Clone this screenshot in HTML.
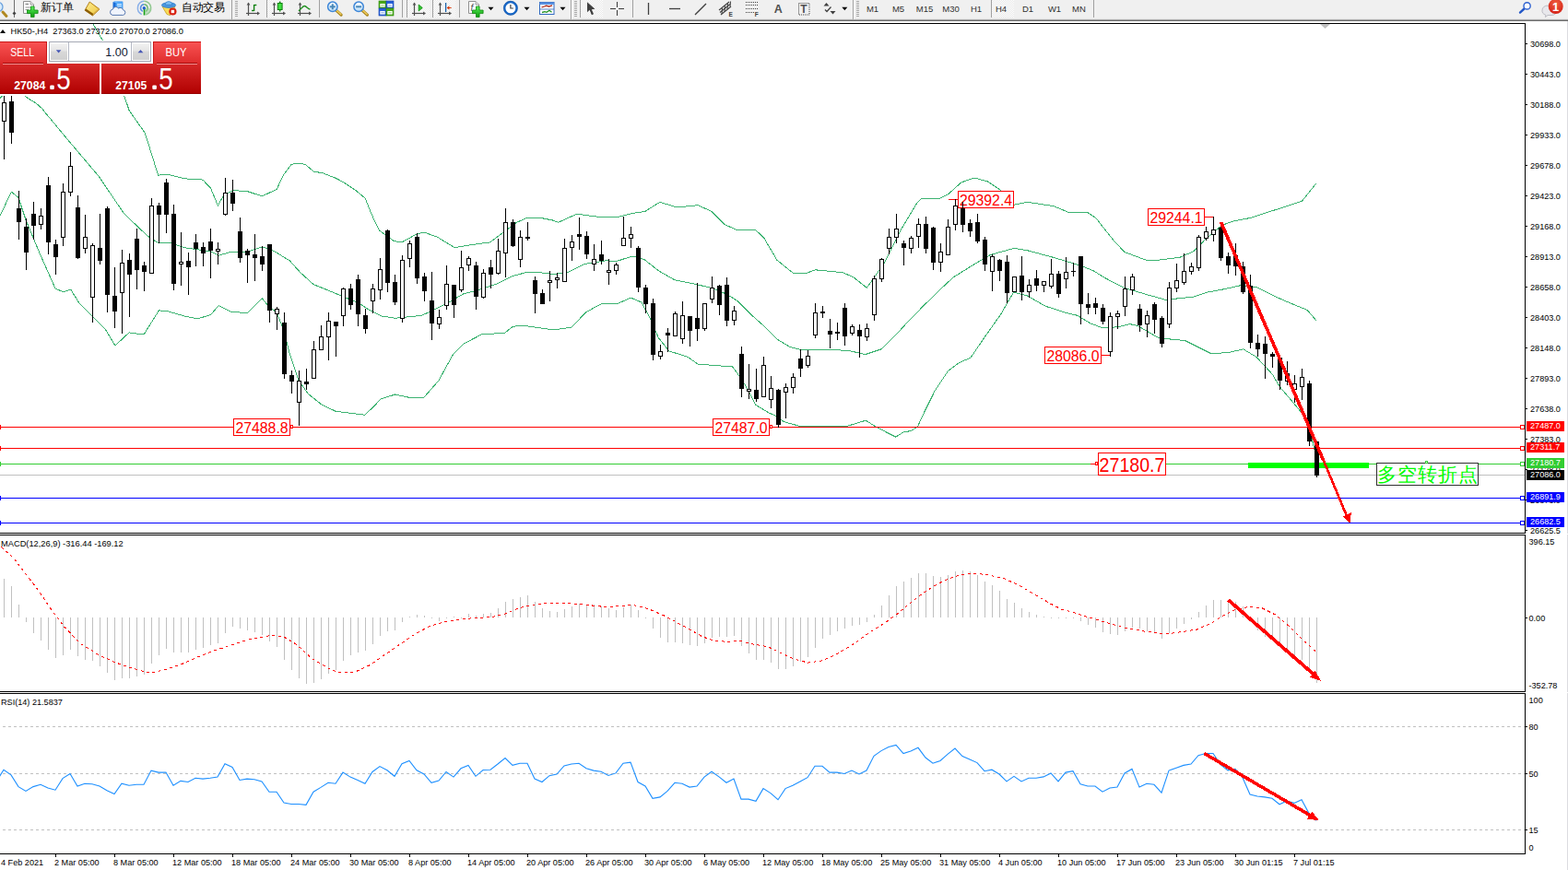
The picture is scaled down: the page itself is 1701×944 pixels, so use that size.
<!DOCTYPE html>
<html><head><meta charset="utf-8"><title>HK50-,H4</title>
<style>
html,body{margin:0;padding:0;background:#fff;overflow:hidden;}
body{width:1701px;height:944px;font-family:"Liberation Sans",sans-serif;}
svg{display:block;position:absolute;left:0;top:0;}
text{font-family:"Liberation Sans",sans-serif;}
</style></head><body>
<svg width="1701" height="944" viewBox="0 0 1701 944">
<rect x="0" y="0" width="1701" height="944" fill="#fff"/>
<defs>
<linearGradient id="gplus" x1="0" y1="0" x2="0" y2="1"><stop offset="0" stop-color="#5cf05c"/><stop offset="1" stop-color="#0a9a0a"/></linearGradient>
<linearGradient id="ggold" x1="0" y1="0" x2="1" y2="1"><stop offset="0" stop-color="#ffe888"/><stop offset="0.6" stop-color="#ecc030"/><stop offset="1" stop-color="#c08c10"/></linearGradient>
<linearGradient id="gsell" x1="0" y1="0" x2="0" y2="1"><stop offset="0" stop-color="#f85252"/><stop offset="1" stop-color="#de2c2c"/></linearGradient>
<linearGradient id="gprice" x1="0" y1="0" x2="0" y2="1"><stop offset="0" stop-color="#d62828"/><stop offset="1" stop-color="#b00000"/></linearGradient>
<linearGradient id="gbtn" x1="0" y1="0" x2="0" y2="1"><stop offset="0" stop-color="#f2f2f2"/><stop offset="0.45" stop-color="#e4e4e4"/><stop offset="0.5" stop-color="#d8d8d8"/><stop offset="1" stop-color="#d0d0d0"/></linearGradient>
<radialGradient id="gbadge" cx="0.5" cy="0.3" r="0.8"><stop offset="0" stop-color="#f06040"/><stop offset="1" stop-color="#d01810"/></radialGradient>
<linearGradient id="glens" x1="0" y1="0" x2="0" y2="1"><stop offset="0" stop-color="#ffffff"/><stop offset="1" stop-color="#b8dcf8"/></linearGradient>
<pattern id="chk" width="2" height="2" patternUnits="userSpaceOnUse"><rect width="2" height="2" fill="#fff"/><rect width="1" height="1" fill="#e8e8e8"/><rect x="1" y="1" width="1" height="1" fill="#e8e8e8"/></pattern>
</defs>
<rect x="0" y="0" width="1701" height="21" fill="#f0f0f0"/>
<rect x="0" y="20" width="1701" height="1" fill="#e6e6e6"/><rect x="0" y="21" width="1701" height="1" fill="#a4a4a4"/><rect x="0" y="22" width="1701" height="1" fill="#6c6c6c"/>
<rect x="1700" y="23" width="1" height="921" fill="#dcdce0"/>
<line x1="3" y1="13" x2="7" y2="17.5" stroke="#b08820" stroke-width="3" stroke-linecap="round"/><circle cx="-2" cy="7.5" r="5" fill="#d8ecfc" stroke="#6aa0dc" stroke-width="1.3"/>
<rect x="15" y="0" width="1" height="19" fill="#707070" shape-rendering="crispEdges"/><polygon points="13.5,14.5 15.5,12.5 17.5,14.5 15.5,16.5" fill="#404040"/>
<path d="M25.5,1.5 h7.5 l3.5,3.5 v9.5 h-11 z" fill="#fff" stroke="#909090" stroke-width="1"/>
<path d="M33.0,1.5 v3.5 h3.5" fill="#e0e0e0" stroke="#909090" stroke-width="0.8"/>
<g stroke="#909090" stroke-width="1"><line x1="27.5" y1="4.5" x2="31" y2="4.5" stroke-width="1.6"/><line x1="27.5" y1="8" x2="33" y2="8"/><line x1="27.5" y1="10.5" x2="31" y2="10.5"/></g>
<path d="M33.5,7 h3.6 v4 h4 v3.6 h-4 v4 h-3.6 v-4 h-4 v-3.6 h4 z" fill="url(#gplus)" stroke="#0c8a0c" stroke-width="0.8"/>
<text x="43.6" y="11.7" font-size="12" fill="#000" textLength="36.2" lengthAdjust="spacing" font-family='"Liberation Sans", "Noto Sans CJK SC", sans-serif'>新订单</text>
<polygon points="92,11.2 97.2,2 108,10 100.5,17" fill="url(#ggold)" stroke="#a87818" stroke-width="0.9" stroke-linejoin="round"/><polygon points="92,11.2 100.5,17 101.2,15 93.2,9.6" fill="#8a5c08"/><polygon points="100.5,17 108,10 107.4,8.6 101.2,15" fill="#d8b050"/><polygon points="94,9.5 97.6,3.2 106.3,9.7 101,14.4" fill="#fff2a0" opacity="0.45"/>
<polygon points="122.5,2.2 125.5,1 133.2,1.8 133.2,10 122.5,10" fill="#1a6cd8"/><polygon points="125.5,2.6 133.2,1.8 133.2,10 125.5,10" fill="#48a4f8"/><polygon points="122.5,2.2 125.5,1 133.2,1.8 125.5,2.8" fill="#8cc8ff"/><rect x="127" y="4.3" width="5" height="1" fill="#fff"/><rect x="127" y="6.3" width="5" height="1" fill="#d8ecff"/>
<path d="M122,16.4 a3.2,3.2 0 0 1 0.4,-6.3 a3.4,3.4 0 0 1 6.2,-1 a3,3 0 0 1 4.8,1.6 a2.9,2.9 0 0 1 0.2,5.7 z" fill="#f0f4fc" stroke="#5878b0" stroke-width="1"/>
<g fill="none" stroke-width="1.5"><path d="M156.3,1.3 a7.5,7.5 0 0 0 -2.5,14.3" stroke="#8ab0e8"/><path d="M156.3,4.8 a4,4 0 0 0 -1.5,7.6" stroke="#5a90e0"/><path d="M156.3,1.3 a7.5,7.5 0 0 1 2,14.7" stroke="#90c890"/><path d="M156.3,4.8 a4,4 0 0 1 1.8,7.5" stroke="#70b870"/></g>
<path d="M156.3,8.8 L164,8.8 A7.6,7.6 0 0 1 157,16.4 z" fill="#9ad09a" opacity="0.55"/>
<line x1="156.5" y1="9" x2="156.5" y2="16.5" stroke="#18a018" stroke-width="1.6"/><circle cx="156.3" cy="8.8" r="1.7" fill="#2060d0"/>
<polygon points="176,7 190,7 187,12 184.5,16.6 181,15.5" fill="#f8dc58" stroke="#c8a020" stroke-width="0.8"/>
<ellipse cx="183" cy="5.6" rx="7.6" ry="2.8" fill="#4a98e0" stroke="#2a78c8" stroke-width="0.8"/><path d="M179.2,5.2 a3.8,3.6 0 0 1 7.6,0 z" fill="#80c0f4" stroke="#2a78c8" stroke-width="0.7"/>
<circle cx="187.4" cy="12.5" r="4.1" fill="#d82010"/><rect x="185.7" y="10.8" width="3.4" height="3.4" fill="#fff"/>
<text x="196.8" y="11.7" font-size="12" fill="#000" textLength="47.2" lengthAdjust="spacing" font-family='"Liberation Sans", "Noto Sans CJK SC", sans-serif'>自动交易</text>
<rect x="251" y="0" width="1" height="21" fill="#a0a0a0" shape-rendering="crispEdges"/>
<rect x="255" y="1" width="3" height="1" fill="#a8a8a8" shape-rendering="crispEdges"/>
<rect x="255" y="3" width="3" height="1" fill="#a8a8a8" shape-rendering="crispEdges"/>
<rect x="255" y="5" width="3" height="1" fill="#a8a8a8" shape-rendering="crispEdges"/>
<rect x="255" y="7" width="3" height="1" fill="#a8a8a8" shape-rendering="crispEdges"/>
<rect x="255" y="9" width="3" height="1" fill="#a8a8a8" shape-rendering="crispEdges"/>
<rect x="255" y="11" width="3" height="1" fill="#a8a8a8" shape-rendering="crispEdges"/>
<rect x="255" y="13" width="3" height="1" fill="#a8a8a8" shape-rendering="crispEdges"/>
<rect x="255" y="15" width="3" height="1" fill="#a8a8a8" shape-rendering="crispEdges"/>
<rect x="255" y="17" width="3" height="1" fill="#a8a8a8" shape-rendering="crispEdges"/>
<g stroke="#505050" stroke-width="1.2" fill="none"><line x1="269.5" y1="3.5" x2="269.5" y2="17"/><line x1="267" y1="14.5" x2="280.5" y2="14.5"/></g>
<polygon points="267.6,5.6 269.5,2.6 271.4,5.6" fill="#505050"/><polygon points="279,12.6 282,14.5 279,16.4" fill="#505050"/>
<g stroke="#108010" stroke-width="1.4" fill="none"><line x1="275.6" y1="5" x2="275.6" y2="12"/><line x1="275.6" y1="5.5" x2="278.3" y2="5.5"/><line x1="273" y1="11.5" x2="275.6" y2="11.5"/></g>
<rect x="290" y="0" width="24" height="19" fill="url(#chk)"/>
<rect x="289" y="0" width="1" height="19" fill="#a0a0a0" shape-rendering="crispEdges"/>
<g stroke="#505050" stroke-width="1.2" fill="none"><line x1="297.5" y1="3.5" x2="297.5" y2="17"/><line x1="295" y1="14.5" x2="308.5" y2="14.5"/></g>
<polygon points="295.6,5.6 297.5,2.6 299.4,5.6" fill="#505050"/><polygon points="307,12.6 310,14.5 307,16.4" fill="#505050"/>
<line x1="303.7" y1="1.5" x2="303.7" y2="12.5" stroke="#108010" stroke-width="1.4"/><rect x="301.3" y="3.5" width="4.8" height="7" fill="#40e040" stroke="#108010" stroke-width="1"/>
<g stroke="#505050" stroke-width="1.2" fill="none"><line x1="325.5" y1="3.5" x2="325.5" y2="17"/><line x1="323" y1="14.5" x2="336.5" y2="14.5"/></g>
<polygon points="323.6,5.6 325.5,2.6 327.4,5.6" fill="#505050"/><polygon points="335,12.6 338,14.5 335,16.4" fill="#505050"/>
<path d="M324,12 C327,9 329,6 330.5,6.5 C332.5,7 334,9.5 336.5,10.2" fill="none" stroke="#209020" stroke-width="1.4"/>
<rect x="346" y="0" width="1" height="19" fill="#a0a0a0" shape-rendering="crispEdges"/>
<line x1="364.6" y1="11.1" x2="370.1" y2="16.1" stroke="#a8841c" stroke-width="3.2" stroke-linecap="round"/>
<line x1="364.8" y1="10.9" x2="369.8" y2="15.5" stroke="#f2d060" stroke-width="1.4" stroke-linecap="round"/>
<circle cx="360.8" cy="7.3" r="5.2" fill="url(#glens)" stroke="#3d86d8" stroke-width="1.5"/>
<rect x="357.8" y="6.3" width="6" height="2" fill="#4a88b8"/>
<rect x="359.8" y="4.3" width="2" height="6" fill="#4a88b8"/>
<line x1="392.90000000000003" y1="11.1" x2="398.40000000000003" y2="16.1" stroke="#a8841c" stroke-width="3.2" stroke-linecap="round"/>
<line x1="393.1" y1="10.9" x2="398.1" y2="15.5" stroke="#f2d060" stroke-width="1.4" stroke-linecap="round"/>
<circle cx="389.1" cy="7.3" r="5.2" fill="url(#glens)" stroke="#3d86d8" stroke-width="1.5"/>
<rect x="386.1" y="6.3" width="6" height="2" fill="#4a88b8"/>
<rect x="411" y="1" width="8" height="8" fill="#48a818" stroke="#2c8a08" stroke-width="0.6"/><rect x="412.3" y="4" width="5.4" height="3.6" fill="#fff"/><rect x="413.3" y="5.3" width="3.4" height="1" fill="#48a818" opacity="0.6"/>
<rect x="419" y="1" width="8" height="8" fill="#2860d8" stroke="#1040b0" stroke-width="0.6"/><rect x="420.3" y="4" width="5.4" height="3.6" fill="#fff"/><rect x="421.3" y="5.3" width="3.4" height="1" fill="#2860d8" opacity="0.6"/>
<rect x="411" y="9" width="8" height="8" fill="#2860d8" stroke="#1040b0" stroke-width="0.6"/><rect x="412.3" y="12" width="5.4" height="3.6" fill="#fff"/><rect x="413.3" y="13.3" width="3.4" height="1" fill="#2860d8" opacity="0.6"/>
<rect x="419" y="9" width="8" height="8" fill="#48a818" stroke="#2c8a08" stroke-width="0.6"/><rect x="420.3" y="12" width="5.4" height="3.6" fill="#fff"/><rect x="421.3" y="13.3" width="3.4" height="1" fill="#48a818" opacity="0.6"/>
<rect x="436" y="0" width="1" height="19" fill="#a0a0a0" shape-rendering="crispEdges"/>
<rect x="442" y="0" width="24" height="19" fill="url(#chk)"/>
<rect x="441" y="0" width="1" height="19" fill="#a0a0a0" shape-rendering="crispEdges"/>
<g stroke="#505050" stroke-width="1.2" fill="none"><line x1="449.5" y1="3.5" x2="449.5" y2="17"/><line x1="447" y1="14.5" x2="460.5" y2="14.5"/></g>
<polygon points="447.6,5.6 449.5,2.6 451.4,5.6" fill="#505050"/><polygon points="459,12.6 462,14.5 459,16.4" fill="#505050"/>
<polygon points="454.2,5 454.2,12 458.3,8.5" fill="#30c030" stroke="#109010" stroke-width="0.8"/>
<rect x="470" y="0" width="24" height="19" fill="url(#chk)"/>
<rect x="469" y="0" width="1" height="19" fill="#a0a0a0" shape-rendering="crispEdges"/>
<g stroke="#505050" stroke-width="1.2" fill="none"><line x1="477.5" y1="3.5" x2="477.5" y2="17"/><line x1="475" y1="14.5" x2="488.5" y2="14.5"/></g>
<polygon points="475.6,5.6 477.5,2.6 479.4,5.6" fill="#505050"/><polygon points="487,12.6 490,14.5 487,16.4" fill="#505050"/>
<line x1="483.6" y1="3" x2="483.6" y2="13" stroke="#1860a8" stroke-width="1.3"/><polygon points="484.6,8.5 487.6,6.3 487.2,8 489.6,8 489.6,9 487.2,9 487.6,10.7" fill="#d83808"/>
<rect x="498" y="0" width="1" height="19" fill="#a0a0a0" shape-rendering="crispEdges"/>
<path d="M508.5,1.5 h7.5 l3.5,3.5 v9.5 h-11 z" fill="#fff" stroke="#909090" stroke-width="1"/>
<path d="M516.0,1.5 v3.5 h3.5" fill="#e0e0e0" stroke="#909090" stroke-width="0.8"/>
<text x="510.5" y="11.5" font-size="10" font-style="italic" fill="#505050" font-family='"Liberation Serif", serif'>f</text>
<path d="M516.5,7 h3.6 v4 h4 v3.6 h-4 v4 h-3.6 v-4 h-4 v-3.6 h4 z" fill="url(#gplus)" stroke="#0c8a0c" stroke-width="0.8"/>
<polygon points="529.5,7.7 535.5,7.7 532.5,11.3" fill="#000"/>
<circle cx="553.9" cy="8.8" r="6.6" fill="#fff" stroke="#1868c8" stroke-width="2.2"/><circle cx="553.9" cy="8.8" r="7.6" fill="none" stroke="#0c4898" stroke-width="0.5"/><path d="M553.9,5 v4 h3" fill="none" stroke="#404040" stroke-width="1.2"/>
<polygon points="568.5,7.7 574.5,7.7 571.5,11.3" fill="#000"/>
<rect x="585.5" y="2.5" width="15.5" height="13" fill="#fff" stroke="#3068c0" stroke-width="1"/><rect x="585.5" y="2.5" width="15.5" height="2.5" fill="#5890e0"/><line x1="586" y1="10" x2="601" y2="10" stroke="#3068c0" stroke-width="0.8"/>
<path d="M587.5,8 l3,-1 l2,-0.8 l3,0.8 l3.5,-1.2" fill="none" stroke="#a82010" stroke-width="1.3"/><path d="M588,13.5 l3,-0.8 l2,0.6 l3,-2 l2.5,2" fill="none" stroke="#209020" stroke-width="1.3"/>
<polygon points="607.5,7.7 613.5,7.7 610.5,11.3" fill="#000"/>
<rect x="619" y="0" width="1" height="21" fill="#a0a0a0" shape-rendering="crispEdges"/>
<rect x="620" y="0" width="1" height="21" fill="#fff"/>
<rect x="623" y="1" width="3" height="1" fill="#a8a8a8" shape-rendering="crispEdges"/>
<rect x="623" y="3" width="3" height="1" fill="#a8a8a8" shape-rendering="crispEdges"/>
<rect x="623" y="5" width="3" height="1" fill="#a8a8a8" shape-rendering="crispEdges"/>
<rect x="623" y="7" width="3" height="1" fill="#a8a8a8" shape-rendering="crispEdges"/>
<rect x="623" y="9" width="3" height="1" fill="#a8a8a8" shape-rendering="crispEdges"/>
<rect x="623" y="11" width="3" height="1" fill="#a8a8a8" shape-rendering="crispEdges"/>
<rect x="623" y="13" width="3" height="1" fill="#a8a8a8" shape-rendering="crispEdges"/>
<rect x="623" y="15" width="3" height="1" fill="#a8a8a8" shape-rendering="crispEdges"/>
<rect x="623" y="17" width="3" height="1" fill="#a8a8a8" shape-rendering="crispEdges"/>
<rect x="629" y="0" width="1" height="19" fill="#a0a0a0" shape-rendering="crispEdges"/>
<rect x="630" y="0" width="24" height="19" fill="url(#chk)"/>
<polygon points="637,2.3 637,13.2 639.6,10.8 641.9,16.2 644,15.3 641.8,10.2 645.4,9.8" fill="#404040"/>
<g stroke="#404040" stroke-width="1.1"><line x1="669.5" y1="2" x2="669.5" y2="8"/><line x1="669.5" y1="11" x2="669.5" y2="17"/><line x1="662" y1="9.5" x2="668" y2="9.5"/><line x1="671" y1="9.5" x2="677" y2="9.5"/></g>
<rect x="686" y="0" width="1" height="19" fill="#a0a0a0" shape-rendering="crispEdges"/>
<g stroke="#404040" stroke-width="1.3"><line x1="703.5" y1="3" x2="703.5" y2="16"/><line x1="726" y1="9.5" x2="738" y2="9.5"/><line x1="754" y1="16" x2="766" y2="4"/></g>
<g stroke="#404040" stroke-width="1.1" fill="none"><line x1="780" y1="11" x2="791" y2="2"/><line x1="781" y1="13.5" x2="792" y2="4.5"/><line x1="782" y1="16" x2="793" y2="7"/><line x1="783.5" y1="9" x2="783" y2="15"/><line x1="786.5" y1="6.5" x2="786" y2="12.5"/><line x1="789.5" y1="4" x2="789" y2="10"/><line x1="792.5" y1="1.5" x2="792" y2="7"/></g>
<text x="790.5" y="17.8" font-size="6.5" font-weight="bold" fill="#404040" font-family='"Liberation Sans", sans-serif'>E</text>
<line x1="809" y1="2.5" x2="822" y2="2.5" stroke="#404040" stroke-width="1" stroke-dasharray="1 1"/>
<line x1="809" y1="5.5" x2="822" y2="5.5" stroke="#404040" stroke-width="1" stroke-dasharray="1 1"/>
<line x1="809" y1="9.5" x2="822" y2="9.5" stroke="#404040" stroke-width="1" stroke-dasharray="1 1"/>
<line x1="809" y1="13.5" x2="818" y2="13.5" stroke="#404040" stroke-width="1" stroke-dasharray="1 1"/>
<text x="818.8" y="17.8" font-size="6.5" font-weight="bold" fill="#404040" font-family='"Liberation Sans", sans-serif'>F</text>
<text x="839.8" y="14" font-size="12.5" font-weight="bold" fill="#505050" font-family='"Liberation Sans", sans-serif'>A</text>
<rect x="866.5" y="3.5" width="11.5" height="12.5" fill="none" stroke="#404040" stroke-width="1" stroke-dasharray="1 1"/>
<text x="868.2" y="14.3" font-size="12" font-weight="bold" fill="#505050" font-family='"Liberation Sans", sans-serif'>T</text>
<polygon points="893.5,6.5 896.5,3 899.5,6.5" fill="#404040"/><polygon points="900.5,12 906.5,12 903.5,15.5" fill="#404040"/><path d="M895,10.5 l2,2 l4.5,-5" fill="none" stroke="#404040" stroke-width="1.3"/>
<polygon points="913.3,7.7 919.3,7.7 916.3,11.3" fill="#000"/>
<rect x="925" y="0" width="1" height="21" fill="#a0a0a0" shape-rendering="crispEdges"/>
<rect x="926" y="0" width="1" height="21" fill="#fff"/>
<rect x="929" y="1" width="3" height="1" fill="#a8a8a8" shape-rendering="crispEdges"/>
<rect x="929" y="3" width="3" height="1" fill="#a8a8a8" shape-rendering="crispEdges"/>
<rect x="929" y="5" width="3" height="1" fill="#a8a8a8" shape-rendering="crispEdges"/>
<rect x="929" y="7" width="3" height="1" fill="#a8a8a8" shape-rendering="crispEdges"/>
<rect x="929" y="9" width="3" height="1" fill="#a8a8a8" shape-rendering="crispEdges"/>
<rect x="929" y="11" width="3" height="1" fill="#a8a8a8" shape-rendering="crispEdges"/>
<rect x="929" y="13" width="3" height="1" fill="#a8a8a8" shape-rendering="crispEdges"/>
<rect x="929" y="15" width="3" height="1" fill="#a8a8a8" shape-rendering="crispEdges"/>
<rect x="929" y="17" width="3" height="1" fill="#a8a8a8" shape-rendering="crispEdges"/>
<rect x="1076" y="0" width="24" height="19" fill="url(#chk)"/>
<rect x="1075" y="0" width="1" height="19" fill="#a0a0a0" shape-rendering="crispEdges"/>
<text x="946.5" y="13" font-size="9.5" fill="#303030" text-anchor="middle" font-family='"Liberation Sans", sans-serif'>M1</text>
<text x="974.5" y="13" font-size="9.5" fill="#303030" text-anchor="middle" font-family='"Liberation Sans", sans-serif'>M5</text>
<text x="1003" y="13" font-size="9.5" fill="#303030" text-anchor="middle" font-family='"Liberation Sans", sans-serif'>M15</text>
<text x="1031.5" y="13" font-size="9.5" fill="#303030" text-anchor="middle" font-family='"Liberation Sans", sans-serif'>M30</text>
<text x="1059" y="13" font-size="9.5" fill="#303030" text-anchor="middle" font-family='"Liberation Sans", sans-serif'>H1</text>
<text x="1086" y="13" font-size="9.5" fill="#303030" text-anchor="middle" font-family='"Liberation Sans", sans-serif'>H4</text>
<text x="1115" y="13" font-size="9.5" fill="#303030" text-anchor="middle" font-family='"Liberation Sans", sans-serif'>D1</text>
<text x="1144" y="13" font-size="9.5" fill="#303030" text-anchor="middle" font-family='"Liberation Sans", sans-serif'>W1</text>
<text x="1170.5" y="13" font-size="9.5" fill="#303030" text-anchor="middle" font-family='"Liberation Sans", sans-serif'>MN</text>
<rect x="1186" y="0" width="1" height="19" fill="#a0a0a0" shape-rendering="crispEdges"/>
<line x1="1653.5" y1="9.5" x2="1649" y2="13.6" stroke="#2458c8" stroke-width="2.4" stroke-linecap="round"/><circle cx="1656.6" cy="6.4" r="3.6" fill="#fdfdff" stroke="#2c60d0" stroke-width="1.4"/>
<path d="M1673,11 a6,5 0 0 1 6,-5 h4 a6,5 0 0 1 0,10.5 h-4 l-2.5,2 l0.3,-2.3 a6,5 0 0 1 -3.8,-5.2 z" fill="#e8e8ec" stroke="#b0b0b8" stroke-width="0.8"/>
<circle cx="1687.7" cy="7" r="8" fill="url(#gbadge)"/>
<text x="1687.6" y="11.6" font-size="13" font-weight="bold" fill="#fff" text-anchor="middle" font-family='"Liberation Sans", sans-serif'>1</text>
<g shape-rendering="crispEdges">
<polyline points="101.0,26.0 112.0,45.0 134.4,102.9 140.2,120.0 157.3,144.3 171.6,190.1 183.0,189.5 200.0,193.8 220.0,195.1 228.6,204.3 236.3,222.9 243.0,211.5 253.0,206.6 268.6,207.7 284.4,212.9 300.3,205.3 307.1,190.5 316.0,178.5 320.7,177.4 326.6,177.4 331.7,178.8 340.6,186.4 349.5,187.5 364.7,193.5 373.2,198.1 385.9,206.6 396.1,215.1 401.2,227.8 406.3,239.7 411.4,250.0 427.2,261.5 435.8,262.9 451.5,254.3 460.0,252.0 474.4,257.2 493.0,268.6 514.4,265.2 531.6,262.9 543.0,254.3 560.2,241.5 571.6,236.3 586.0,236.3 600.0,239.1 605.7,241.3 625.7,232.2 651.5,235.6 670.0,235.6 685.8,231.6 700.0,229.3 715.8,219.3 734.4,225.0 757.3,222.7 771.6,229.3 786.0,243.6 800.0,249.7 820.0,249.9 828.6,257.9 842.9,282.2 860.0,296.0 874.4,296.5 884.4,292.8 914.4,295.7 925.9,300.8 940.2,312.3 948.7,300.8 960.2,283.6 977.3,249.3 994.5,220.7 1000.0,215.0 1020.0,215.0 1028.6,210.7 1042.9,197.9 1057.2,193.0 1071.5,197.0 1085.8,206.5 1100.0,222.2 1114.4,219.3 1143.0,223.6 1160.2,230.8 1180.2,230.8 1188.8,236.5 1200.0,250.8 1208.6,261.5 1220.0,273.5 1242.9,282.1 1257.2,282.1 1280.0,279.2 1294.4,273.0 1308.7,258.6 1325.9,244.3 1338.1,240.0 1357.2,236.3 1376.3,230.0 1395.3,223.9 1412.5,218.1 1427.8,199.1" fill="none" stroke="#3cb371" stroke-width="1"/>
<polyline points="-2.0,108.0 2.6,104.2 8.0,99.0 20.0,99.0 27.2,104.2 31.7,107.5 38.1,111.4 42.0,114.4 46.6,118.8 50.4,123.9 53.6,127.6 75.8,154.3 107.3,191.5 134.4,231.6 160.0,256.0 171.6,263.6 183.0,263.0 200.0,268.8 214.3,270.7 228.6,273.0 237.2,277.2 251.5,273.0 268.6,273.0 284.4,267.8 297.3,272.4 314.4,283.0 325.9,295.8 340.2,308.7 354.5,314.4 371.6,321.6 388.8,328.7 400.0,335.9 414.3,343.0 428.6,345.3 457.2,342.4 468.6,337.3 485.8,328.7 503.0,318.7 520.1,314.4 537.3,308.7 554.5,300.1 571.6,295.3 586.0,295.8 600.0,297.3 614.3,296.5 634.3,286.5 657.2,282.8 668.6,283.6 685.8,278.0 698.7,281.4 714.4,293.7 731.6,303.7 748.7,307.1 771.6,312.3 788.8,319.4 800.0,326.6 814.3,340.9 828.6,353.7 842.9,368.0 857.2,376.6 868.6,379.5 897.3,379.5 920.1,380.3 938.7,384.6 955.9,378.9 971.6,363.7 985.9,348.0 1000.0,333.7 1017.2,316.6 1034.3,300.8 1057.2,286.5 1074.4,276.5 1100.0,269.4 1114.4,271.7 1143.0,279.4 1171.6,288.0 1185.9,293.7 1200.0,302.3 1220.0,312.4 1242.9,319.3 1264.4,325.3 1294.4,322.1 1308.7,317.3 1328.7,313.6 1345.8,309.7 1362.9,311.6 1382.0,321.1 1399.2,328.7 1418.2,336.4 1427.8,347.8" fill="none" stroke="#3cb371" stroke-width="1"/>
<polyline points="0.0,234.4 12.3,208.1 20.0,214.4 28.6,240.2 42.9,274.5 60.0,313.0 68.6,316.8 76.7,314.0 85.8,328.8 114.4,357.4 122.0,370.0 125.0,375.0 140.0,360.9 156.0,363.0 172.5,336.8 183.0,338.0 200.0,343.0 214.3,345.9 228.6,341.6 237.2,331.6 251.5,338.7 268.6,339.3 284.4,323.9 292.0,333.0 300.0,338.7 308.0,358.8 314.4,384.5 324.0,413.0 334.4,427.4 348.7,438.9 364.2,446.3 383.0,448.6 395.9,450.2 406.5,440.0 412.9,433.1 428.6,428.0 443.0,431.1 460.0,431.1 475.8,413.1 491.5,384.5 503.0,373.1 523.0,362.5 547.3,361.6 556.0,354.5 566.0,353.0 586.0,355.9 600.0,357.9 620.0,355.2 635.8,338.6 653.0,329.4 668.6,330.0 684.4,323.1 695.8,328.0 704.4,343.7 714.4,366.6 725.9,380.9 745.9,387.2 757.3,395.2 777.3,396.6 794.5,398.0 800.0,405.2 808.6,418.1 820.0,439.5 834.3,448.1 841.8,451.3 850.3,457.6 867.2,462.3 919.4,462.3 939.2,456.2 950.5,463.3 971.6,474.1 980.1,468.9 988.6,467.5 995.6,462.6 1000.0,452.7 1014.3,423.8 1028.6,402.4 1040.0,393.8 1053.0,388.1 1068.6,365.2 1085.8,340.9 1099.5,317.1 1114.4,320.9 1134.4,332.3 1154.5,338.9 1168.8,342.3 1183.0,350.9 1194.5,355.2 1200.0,355.8 1214.3,354.5 1225.7,351.6 1234.3,353.6 1257.2,366.8 1285.8,369.6 1314.4,383.9 1334.4,382.2 1348.7,378.8 1363.0,387.4 1380.2,406.0 1388.7,420.3 1401.4,435.0 1412.0,447.8 1420.5,464.7 1427.0,492.0" fill="none" stroke="#3cb371" stroke-width="1"/>
<rect x="0" y="515" width="1654" height="1" fill="#c0c0c0"/>
<rect x="0" y="463" width="1654" height="1" fill="#ff0000"/>
<rect x="0" y="486" width="1654" height="1" fill="#ff0000"/>
<rect x="0" y="503" width="1654" height="1" fill="#32cd32"/>
<rect x="0" y="540" width="1654" height="1" fill="#0000ff"/>
<rect x="0" y="567" width="1654" height="1" fill="#0000ff"/>
<rect x="0" y="461" width="1" height="5" fill="#ff0000"/>
<rect x="1649.5" y="461.5" width="4" height="4" fill="#fff" stroke="#ff0000" stroke-width="1"/>
<rect x="0" y="484" width="1" height="5" fill="#ff0000"/>
<rect x="1649.5" y="484.5" width="4" height="4" fill="#fff" stroke="#ff0000" stroke-width="1"/>
<rect x="0" y="501" width="1" height="5" fill="#32cd32"/>
<rect x="1649.5" y="501.5" width="4" height="4" fill="#fff" stroke="#32cd32" stroke-width="1"/>
<rect x="0" y="538" width="1" height="5" fill="#0000ff"/>
<rect x="1649.5" y="538.5" width="4" height="4" fill="#fff" stroke="#0000ff" stroke-width="1"/>
<rect x="0" y="565" width="1" height="5" fill="#0000ff"/>
<rect x="1649.5" y="565.5" width="4" height="4" fill="#fff" stroke="#0000ff" stroke-width="1"/>
</g>
<rect x="1354" y="502" width="131" height="6" fill="#00ff00" shape-rendering="crispEdges"/>
<rect x="253.5" y="454.5" width="61" height="18" fill="#fff" stroke="#ff0000" stroke-width="1" shape-rendering="crispEdges"/>
<text x="255.4" y="469.9" font-size="16.4" fill="#ff0000" textLength="57.2" lengthAdjust="spacingAndGlyphs" font-family='"Liberation Sans", sans-serif'>27488.8</text>
<rect x="315.5" y="461.5" width="2" height="3" fill="#fff" stroke="#f00" shape-rendering="crispEdges"/>
<rect x="773.5" y="454.5" width="61" height="18" fill="#fff" stroke="#ff0000" stroke-width="1" shape-rendering="crispEdges"/>
<text x="775.4" y="469.9" font-size="16.4" fill="#ff0000" textLength="57.2" lengthAdjust="spacingAndGlyphs" font-family='"Liberation Sans", sans-serif'>27487.0</text>
<rect x="835.5" y="461.5" width="2" height="3" fill="#fff" stroke="#f00" shape-rendering="crispEdges"/>
<rect x="1029" y="216" width="10" height="1" fill="#f00"/>
<rect x="1039.5" y="207.5" width="60" height="18" fill="#fff" stroke="#ff0000" stroke-width="1" shape-rendering="crispEdges"/>
<text x="1040.9" y="222.9" font-size="16.4" fill="#ff0000" textLength="57.2" lengthAdjust="spacingAndGlyphs" font-family='"Liberation Sans", sans-serif'>29392.4</text>
<rect x="1306" y="235" width="11" height="1" fill="#f00"/>
<rect x="1245.5" y="226.5" width="61" height="18" fill="#fff" stroke="#ff0000" stroke-width="1" shape-rendering="crispEdges"/>
<text x="1247.4" y="241.9" font-size="16.4" fill="#ff0000" textLength="57.2" lengthAdjust="spacingAndGlyphs" font-family='"Liberation Sans", sans-serif'>29244.1</text>
<rect x="1195" y="385" width="9" height="1" fill="#f00"/>
<rect x="1133.5" y="376.5" width="61" height="18" fill="#fff" stroke="#ff0000" stroke-width="1" shape-rendering="crispEdges"/>
<text x="1135.4" y="391.9" font-size="16.4" fill="#ff0000" textLength="57.2" lengthAdjust="spacingAndGlyphs" font-family='"Liberation Sans", sans-serif'>28086.0</text>
<rect x="1183" y="503" width="6" height="1" fill="#f00"/>
<rect x="1188.5" y="501.5" width="2" height="3" fill="#fff" stroke="#f00" shape-rendering="crispEdges"/>
<rect x="1191.5" y="491.5" width="73" height="24" fill="#fff" stroke="#ff0000" stroke-width="1" shape-rendering="crispEdges"/>
<text x="1192.6" y="512.0" font-size="22.2" fill="#ff0000" textLength="70.8" lengthAdjust="spacingAndGlyphs" font-family='"Liberation Sans", sans-serif'>27180.7</text>
<g shape-rendering="crispEdges">
<rect x="4" y="100" width="1" height="73" fill="#000"/>
<rect x="2.5" y="111.5" width="4" height="20" fill="#fff" stroke="#000" stroke-width="1"/>
<rect x="12" y="104" width="1" height="52" fill="#000"/>
<rect x="10" y="110" width="5" height="34" fill="#000"/>
<rect x="20" y="207" width="1" height="53" fill="#000"/>
<rect x="18" y="226" width="5" height="15" fill="#000"/>
<rect x="28" y="237" width="1" height="56" fill="#000"/>
<rect x="26" y="246" width="5" height="28" fill="#000"/>
<rect x="36" y="219" width="1" height="41" fill="#000"/>
<rect x="34" y="232" width="5" height="13" fill="#000"/>
<rect x="44" y="226" width="1" height="23" fill="#000"/>
<rect x="42.5" y="234.5" width="4" height="9" fill="#fff" stroke="#000" stroke-width="1"/>
<rect x="52" y="192" width="1" height="84" fill="#000"/>
<rect x="50" y="201" width="5" height="62" fill="#000"/>
<rect x="60" y="260" width="1" height="38" fill="#000"/>
<rect x="58" y="265" width="5" height="14" fill="#000"/>
<rect x="68" y="199" width="1" height="68" fill="#000"/>
<rect x="66.5" y="208.5" width="4" height="49" fill="#fff" stroke="#000" stroke-width="1"/>
<rect x="76" y="165" width="1" height="48" fill="#000"/>
<rect x="74.5" y="180.5" width="4" height="28" fill="#fff" stroke="#000" stroke-width="1"/>
<rect x="84" y="212" width="1" height="69" fill="#000"/>
<rect x="82" y="225" width="5" height="55" fill="#000"/>
<rect x="92" y="233" width="1" height="42" fill="#000"/>
<rect x="90.5" y="257.5" width="4" height="12" fill="#fff" stroke="#000" stroke-width="1"/>
<rect x="100" y="264" width="1" height="86" fill="#000"/>
<rect x="98.5" y="266.5" width="4" height="56" fill="#fff" stroke="#000" stroke-width="1"/>
<rect x="108" y="232" width="1" height="55" fill="#000"/>
<rect x="106" y="269" width="5" height="14" fill="#000"/>
<rect x="116" y="224" width="1" height="115" fill="#000"/>
<rect x="114" y="226" width="5" height="94" fill="#000"/>
<rect x="124" y="290" width="1" height="66" fill="#000"/>
<rect x="122" y="321" width="5" height="17" fill="#000"/>
<rect x="132" y="271" width="1" height="91" fill="#000"/>
<rect x="130.5" y="285.5" width="4" height="32" fill="#fff" stroke="#000" stroke-width="1"/>
<rect x="140" y="275" width="1" height="69" fill="#000"/>
<rect x="138" y="282" width="5" height="16" fill="#000"/>
<rect x="148" y="248" width="1" height="66" fill="#000"/>
<rect x="146" y="259" width="5" height="34" fill="#000"/>
<rect x="156" y="284" width="1" height="32" fill="#000"/>
<rect x="154" y="288" width="5" height="7" fill="#000"/>
<rect x="164" y="215" width="1" height="82" fill="#000"/>
<rect x="162.5" y="223.5" width="4" height="73" fill="#fff" stroke="#000" stroke-width="1"/>
<rect x="172" y="220" width="1" height="44" fill="#000"/>
<rect x="170" y="223" width="5" height="10" fill="#000"/>
<rect x="180" y="194" width="1" height="59" fill="#000"/>
<rect x="178" y="198" width="5" height="35" fill="#000"/>
<rect x="188" y="222" width="1" height="93" fill="#000"/>
<rect x="186" y="232" width="5" height="76" fill="#000"/>
<rect x="196" y="252" width="1" height="58" fill="#000"/>
<rect x="194.5" y="284.5" width="4" height="2" fill="#fff" stroke="#000" stroke-width="1"/>
<rect x="204" y="274" width="1" height="46" fill="#000"/>
<rect x="202" y="283" width="5" height="7" fill="#000"/>
<rect x="212" y="254" width="1" height="35" fill="#000"/>
<rect x="210" y="263" width="5" height="7" fill="#000"/>
<rect x="220" y="263" width="1" height="26" fill="#000"/>
<rect x="218" y="268" width="5" height="7" fill="#000"/>
<rect x="228" y="248" width="1" height="54" fill="#000"/>
<rect x="226" y="262" width="5" height="10" fill="#000"/>
<rect x="236" y="263" width="1" height="24" fill="#000"/>
<rect x="234.5" y="270.5" width="4" height="2" fill="#fff" stroke="#000" stroke-width="1"/>
<rect x="244" y="193" width="1" height="41" fill="#000"/>
<rect x="242.5" y="209.5" width="4" height="23" fill="#fff" stroke="#000" stroke-width="1"/>
<rect x="252" y="195" width="1" height="34" fill="#000"/>
<rect x="250" y="209" width="5" height="12" fill="#000"/>
<rect x="260" y="236" width="1" height="49" fill="#000"/>
<rect x="258" y="251" width="5" height="29" fill="#000"/>
<rect x="268" y="270" width="1" height="37" fill="#000"/>
<rect x="266" y="272" width="5" height="5" fill="#000"/>
<rect x="276" y="254" width="1" height="51" fill="#000"/>
<rect x="274" y="276" width="5" height="4" fill="#000"/>
<rect x="284" y="267" width="1" height="27" fill="#000"/>
<rect x="282" y="278" width="5" height="9" fill="#000"/>
<rect x="292" y="265" width="1" height="85" fill="#000"/>
<rect x="290" y="265" width="5" height="72" fill="#000"/>
<rect x="300" y="333" width="1" height="25" fill="#000"/>
<rect x="298.5" y="335.5" width="4" height="5" fill="#fff" stroke="#000" stroke-width="1"/>
<rect x="308" y="339" width="1" height="72" fill="#000"/>
<rect x="306" y="350" width="5" height="56" fill="#000"/>
<rect x="316" y="402" width="1" height="25" fill="#000"/>
<rect x="314" y="407" width="5" height="7" fill="#000"/>
<rect x="324" y="402" width="1" height="60" fill="#000"/>
<rect x="322.5" y="413.5" width="4" height="23" fill="#fff" stroke="#000" stroke-width="1"/>
<rect x="332" y="400" width="1" height="23" fill="#000"/>
<rect x="330" y="414" width="5" height="3" fill="#000"/>
<rect x="340" y="370" width="1" height="41" fill="#000"/>
<rect x="338.5" y="379.5" width="4" height="31" fill="#fff" stroke="#000" stroke-width="1"/>
<rect x="348" y="353" width="1" height="27" fill="#000"/>
<rect x="346.5" y="365.5" width="4" height="14" fill="#fff" stroke="#000" stroke-width="1"/>
<rect x="356" y="339" width="1" height="52" fill="#000"/>
<rect x="354.5" y="348.5" width="4" height="17" fill="#fff" stroke="#000" stroke-width="1"/>
<rect x="364" y="349" width="1" height="38" fill="#000"/>
<rect x="362" y="349" width="5" height="5" fill="#000"/>
<rect x="372" y="312" width="1" height="42" fill="#000"/>
<rect x="370.5" y="313.5" width="4" height="29" fill="#fff" stroke="#000" stroke-width="1"/>
<rect x="380" y="308" width="1" height="28" fill="#000"/>
<rect x="378" y="313" width="5" height="18" fill="#000"/>
<rect x="388" y="298" width="1" height="56" fill="#000"/>
<rect x="386" y="303" width="5" height="38" fill="#000"/>
<rect x="396" y="335" width="1" height="27" fill="#000"/>
<rect x="394" y="342" width="5" height="15" fill="#000"/>
<rect x="404" y="308" width="1" height="32" fill="#000"/>
<rect x="402.5" y="313.5" width="4" height="13" fill="#fff" stroke="#000" stroke-width="1"/>
<rect x="412" y="280" width="1" height="45" fill="#000"/>
<rect x="410.5" y="292.5" width="4" height="22" fill="#fff" stroke="#000" stroke-width="1"/>
<rect x="420" y="249" width="1" height="68" fill="#000"/>
<rect x="418" y="250" width="5" height="57" fill="#000"/>
<rect x="428" y="298" width="1" height="33" fill="#000"/>
<rect x="426" y="306" width="5" height="22" fill="#000"/>
<rect x="436" y="277" width="1" height="73" fill="#000"/>
<rect x="434.5" y="282.5" width="4" height="63" fill="#fff" stroke="#000" stroke-width="1"/>
<rect x="444" y="261" width="1" height="29" fill="#000"/>
<rect x="442.5" y="264.5" width="4" height="16" fill="#fff" stroke="#000" stroke-width="1"/>
<rect x="452" y="253" width="1" height="55" fill="#000"/>
<rect x="450" y="257" width="5" height="45" fill="#000"/>
<rect x="460" y="296" width="1" height="31" fill="#000"/>
<rect x="458" y="300" width="5" height="16" fill="#000"/>
<rect x="468" y="295" width="1" height="74" fill="#000"/>
<rect x="466" y="326" width="5" height="25" fill="#000"/>
<rect x="476" y="336" width="1" height="21" fill="#000"/>
<rect x="474.5" y="344.5" width="4" height="7" fill="#fff" stroke="#000" stroke-width="1"/>
<rect x="484" y="288" width="1" height="48" fill="#000"/>
<rect x="482.5" y="308.5" width="4" height="23" fill="#fff" stroke="#000" stroke-width="1"/>
<rect x="492" y="309" width="1" height="36" fill="#000"/>
<rect x="490" y="309" width="5" height="22" fill="#000"/>
<rect x="500" y="272" width="1" height="45" fill="#000"/>
<rect x="498.5" y="290.5" width="4" height="24" fill="#fff" stroke="#000" stroke-width="1"/>
<rect x="508" y="278" width="1" height="16" fill="#000"/>
<rect x="506.5" y="280.5" width="4" height="7" fill="#fff" stroke="#000" stroke-width="1"/>
<rect x="516" y="284" width="1" height="52" fill="#000"/>
<rect x="514" y="288" width="5" height="34" fill="#000"/>
<rect x="524" y="292" width="1" height="32" fill="#000"/>
<rect x="522.5" y="296.5" width="4" height="26" fill="#fff" stroke="#000" stroke-width="1"/>
<rect x="532" y="282" width="1" height="31" fill="#000"/>
<rect x="530" y="290" width="5" height="8" fill="#000"/>
<rect x="540" y="259" width="1" height="39" fill="#000"/>
<rect x="538.5" y="272.5" width="4" height="24" fill="#fff" stroke="#000" stroke-width="1"/>
<rect x="548" y="226" width="1" height="75" fill="#000"/>
<rect x="546.5" y="241.5" width="4" height="33" fill="#fff" stroke="#000" stroke-width="1"/>
<rect x="556" y="238" width="1" height="30" fill="#000"/>
<rect x="554" y="241" width="5" height="26" fill="#000"/>
<rect x="564" y="250" width="1" height="40" fill="#000"/>
<rect x="562.5" y="257.5" width="4" height="24" fill="#fff" stroke="#000" stroke-width="1"/>
<rect x="572" y="241" width="1" height="20" fill="#000"/>
<rect x="570" y="257" width="5" height="2" fill="#000"/>
<rect x="580" y="300" width="1" height="40" fill="#000"/>
<rect x="578" y="304" width="5" height="15" fill="#000"/>
<rect x="588" y="314" width="1" height="16" fill="#000"/>
<rect x="586" y="318" width="5" height="12" fill="#000"/>
<rect x="596" y="294" width="1" height="33" fill="#000"/>
<rect x="594.5" y="304.5" width="4" height="2" fill="#fff" stroke="#000" stroke-width="1"/>
<rect x="604" y="296" width="1" height="17" fill="#000"/>
<rect x="602.5" y="301.5" width="4" height="2" fill="#fff" stroke="#000" stroke-width="1"/>
<rect x="612" y="259" width="1" height="47" fill="#000"/>
<rect x="610.5" y="269.5" width="4" height="36" fill="#fff" stroke="#000" stroke-width="1"/>
<rect x="620" y="255" width="1" height="28" fill="#000"/>
<rect x="618.5" y="262.5" width="4" height="6" fill="#fff" stroke="#000" stroke-width="1"/>
<rect x="628" y="236" width="1" height="35" fill="#000"/>
<rect x="626" y="254" width="5" height="3" fill="#000"/>
<rect x="636" y="251" width="1" height="30" fill="#000"/>
<rect x="634" y="256" width="5" height="20" fill="#000"/>
<rect x="644" y="265" width="1" height="29" fill="#000"/>
<rect x="642.5" y="281.5" width="4" height="5" fill="#fff" stroke="#000" stroke-width="1"/>
<rect x="652" y="261" width="1" height="26" fill="#000"/>
<rect x="650" y="276" width="5" height="7" fill="#000"/>
<rect x="660" y="281" width="1" height="28" fill="#000"/>
<rect x="658.5" y="293.5" width="4" height="2" fill="#fff" stroke="#000" stroke-width="1"/>
<rect x="668" y="285" width="1" height="13" fill="#000"/>
<rect x="666.5" y="287.5" width="4" height="6" fill="#fff" stroke="#000" stroke-width="1"/>
<rect x="676" y="235" width="1" height="32" fill="#000"/>
<rect x="674.5" y="258.5" width="4" height="8" fill="#fff" stroke="#000" stroke-width="1"/>
<rect x="684" y="246" width="1" height="23" fill="#000"/>
<rect x="682.5" y="254.5" width="4" height="4" fill="#fff" stroke="#000" stroke-width="1"/>
<rect x="692" y="267" width="1" height="50" fill="#000"/>
<rect x="690" y="269" width="5" height="43" fill="#000"/>
<rect x="700" y="309" width="1" height="31" fill="#000"/>
<rect x="698" y="312" width="5" height="18" fill="#000"/>
<rect x="708" y="324" width="1" height="67" fill="#000"/>
<rect x="706" y="329" width="5" height="56" fill="#000"/>
<rect x="716" y="374" width="1" height="16" fill="#000"/>
<rect x="714.5" y="381.5" width="4" height="5" fill="#fff" stroke="#000" stroke-width="1"/>
<rect x="724" y="356" width="1" height="26" fill="#000"/>
<rect x="722" y="361" width="5" height="3" fill="#000"/>
<rect x="732" y="338" width="1" height="27" fill="#000"/>
<rect x="730.5" y="340.5" width="4" height="24" fill="#fff" stroke="#000" stroke-width="1"/>
<rect x="740" y="327" width="1" height="46" fill="#000"/>
<rect x="738.5" y="342.5" width="4" height="25" fill="#fff" stroke="#000" stroke-width="1"/>
<rect x="748" y="343" width="1" height="33" fill="#000"/>
<rect x="746" y="343" width="5" height="16" fill="#000"/>
<rect x="756" y="307" width="1" height="63" fill="#000"/>
<rect x="754" y="345" width="5" height="12" fill="#000"/>
<rect x="764" y="329" width="1" height="30" fill="#000"/>
<rect x="762.5" y="329.5" width="4" height="27" fill="#fff" stroke="#000" stroke-width="1"/>
<rect x="772" y="300" width="1" height="29" fill="#000"/>
<rect x="770.5" y="312.5" width="4" height="12" fill="#fff" stroke="#000" stroke-width="1"/>
<rect x="780" y="309" width="1" height="33" fill="#000"/>
<rect x="778" y="310" width="5" height="21" fill="#000"/>
<rect x="788" y="301" width="1" height="53" fill="#000"/>
<rect x="786" y="309" width="5" height="39" fill="#000"/>
<rect x="796" y="332" width="1" height="21" fill="#000"/>
<rect x="794.5" y="337.5" width="4" height="10" fill="#fff" stroke="#000" stroke-width="1"/>
<rect x="804" y="376" width="1" height="55" fill="#000"/>
<rect x="802" y="384" width="5" height="38" fill="#000"/>
<rect x="812" y="395" width="1" height="38" fill="#000"/>
<rect x="810.5" y="422.5" width="4" height="2" fill="#fff" stroke="#000" stroke-width="1"/>
<rect x="820" y="400" width="1" height="36" fill="#000"/>
<rect x="818" y="423" width="5" height="10" fill="#000"/>
<rect x="828" y="387" width="1" height="44" fill="#000"/>
<rect x="826.5" y="396.5" width="4" height="34" fill="#fff" stroke="#000" stroke-width="1"/>
<rect x="836" y="408" width="1" height="35" fill="#000"/>
<rect x="834.5" y="421.5" width="4" height="12" fill="#fff" stroke="#000" stroke-width="1"/>
<rect x="844" y="422" width="1" height="42" fill="#000"/>
<rect x="842" y="423" width="5" height="38" fill="#000"/>
<rect x="852" y="416" width="1" height="38" fill="#000"/>
<rect x="850.5" y="420.5" width="4" height="5" fill="#fff" stroke="#000" stroke-width="1"/>
<rect x="860" y="405" width="1" height="22" fill="#000"/>
<rect x="858.5" y="409.5" width="4" height="11" fill="#fff" stroke="#000" stroke-width="1"/>
<rect x="868" y="379" width="1" height="30" fill="#000"/>
<rect x="866" y="389" width="5" height="11" fill="#000"/>
<rect x="876" y="380" width="1" height="19" fill="#000"/>
<rect x="874.5" y="386.5" width="4" height="10" fill="#fff" stroke="#000" stroke-width="1"/>
<rect x="884" y="329" width="1" height="38" fill="#000"/>
<rect x="882.5" y="339.5" width="4" height="24" fill="#fff" stroke="#000" stroke-width="1"/>
<rect x="892" y="332" width="1" height="13" fill="#000"/>
<rect x="890" y="338" width="5" height="2" fill="#000"/>
<rect x="900" y="346" width="1" height="32" fill="#000"/>
<rect x="898" y="359" width="5" height="4" fill="#000"/>
<rect x="908" y="350" width="1" height="19" fill="#000"/>
<rect x="906" y="360" width="5" height="2" fill="#000"/>
<rect x="916" y="329" width="1" height="46" fill="#000"/>
<rect x="914" y="334" width="5" height="31" fill="#000"/>
<rect x="924" y="352" width="1" height="12" fill="#000"/>
<rect x="922.5" y="354.5" width="4" height="7" fill="#fff" stroke="#000" stroke-width="1"/>
<rect x="932" y="352" width="1" height="36" fill="#000"/>
<rect x="930" y="358" width="5" height="7" fill="#000"/>
<rect x="940" y="351" width="1" height="19" fill="#000"/>
<rect x="938.5" y="356.5" width="4" height="9" fill="#fff" stroke="#000" stroke-width="1"/>
<rect x="948" y="299" width="1" height="49" fill="#000"/>
<rect x="946.5" y="302.5" width="4" height="39" fill="#fff" stroke="#000" stroke-width="1"/>
<rect x="956" y="280" width="1" height="26" fill="#000"/>
<rect x="954.5" y="281.5" width="4" height="21" fill="#fff" stroke="#000" stroke-width="1"/>
<rect x="964" y="248" width="1" height="28" fill="#000"/>
<rect x="962.5" y="257.5" width="4" height="12" fill="#fff" stroke="#000" stroke-width="1"/>
<rect x="972" y="232" width="1" height="32" fill="#000"/>
<rect x="970.5" y="248.5" width="4" height="9" fill="#fff" stroke="#000" stroke-width="1"/>
<rect x="980" y="261" width="1" height="27" fill="#000"/>
<rect x="978" y="264" width="5" height="5" fill="#000"/>
<rect x="988" y="256" width="1" height="19" fill="#000"/>
<rect x="986.5" y="258.5" width="4" height="11" fill="#fff" stroke="#000" stroke-width="1"/>
<rect x="996" y="237" width="1" height="32" fill="#000"/>
<rect x="994.5" y="243.5" width="4" height="13" fill="#fff" stroke="#000" stroke-width="1"/>
<rect x="1004" y="235" width="1" height="40" fill="#000"/>
<rect x="1002" y="243" width="5" height="27" fill="#000"/>
<rect x="1012" y="246" width="1" height="47" fill="#000"/>
<rect x="1010" y="247" width="5" height="38" fill="#000"/>
<rect x="1020" y="264" width="1" height="31" fill="#000"/>
<rect x="1018.5" y="273.5" width="4" height="11" fill="#fff" stroke="#000" stroke-width="1"/>
<rect x="1028" y="238" width="1" height="39" fill="#000"/>
<rect x="1026.5" y="246.5" width="4" height="30" fill="#fff" stroke="#000" stroke-width="1"/>
<rect x="1036" y="216" width="1" height="34" fill="#000"/>
<rect x="1034.5" y="223.5" width="4" height="20" fill="#fff" stroke="#000" stroke-width="1"/>
<rect x="1044" y="219" width="1" height="33" fill="#000"/>
<rect x="1042" y="226" width="5" height="18" fill="#000"/>
<rect x="1052" y="238" width="1" height="19" fill="#000"/>
<rect x="1050" y="242" width="5" height="9" fill="#000"/>
<rect x="1060" y="232" width="1" height="32" fill="#000"/>
<rect x="1058" y="241" width="5" height="21" fill="#000"/>
<rect x="1068" y="257" width="1" height="37" fill="#000"/>
<rect x="1066" y="260" width="5" height="27" fill="#000"/>
<rect x="1076" y="276" width="1" height="40" fill="#000"/>
<rect x="1074.5" y="278.5" width="4" height="16" fill="#fff" stroke="#000" stroke-width="1"/>
<rect x="1084" y="281" width="1" height="24" fill="#000"/>
<rect x="1082" y="282" width="5" height="12" fill="#000"/>
<rect x="1092" y="277" width="1" height="52" fill="#000"/>
<rect x="1090" y="284" width="5" height="34" fill="#000"/>
<rect x="1100" y="300" width="1" height="17" fill="#000"/>
<rect x="1098.5" y="300.5" width="4" height="16" fill="#fff" stroke="#000" stroke-width="1"/>
<rect x="1108" y="278" width="1" height="48" fill="#000"/>
<rect x="1106" y="299" width="5" height="18" fill="#000"/>
<rect x="1116" y="303" width="1" height="20" fill="#000"/>
<rect x="1114.5" y="309.5" width="4" height="7" fill="#fff" stroke="#000" stroke-width="1"/>
<rect x="1124" y="293" width="1" height="23" fill="#000"/>
<rect x="1122" y="302" width="5" height="8" fill="#000"/>
<rect x="1132" y="305" width="1" height="12" fill="#000"/>
<rect x="1130.5" y="305.5" width="4" height="4" fill="#fff" stroke="#000" stroke-width="1"/>
<rect x="1140" y="281" width="1" height="32" fill="#000"/>
<rect x="1138.5" y="297.5" width="4" height="13" fill="#fff" stroke="#000" stroke-width="1"/>
<rect x="1148" y="294" width="1" height="29" fill="#000"/>
<rect x="1146" y="297" width="5" height="22" fill="#000"/>
<rect x="1156" y="279" width="1" height="34" fill="#000"/>
<rect x="1154.5" y="295.5" width="4" height="7" fill="#fff" stroke="#000" stroke-width="1"/>
<rect x="1164" y="285" width="1" height="15" fill="#000"/>
<rect x="1162" y="294" width="5" height="1" fill="#000"/>
<rect x="1172" y="278" width="1" height="74" fill="#000"/>
<rect x="1170" y="278" width="5" height="52" fill="#000"/>
<rect x="1180" y="318" width="1" height="23" fill="#000"/>
<rect x="1178" y="330" width="5" height="4" fill="#000"/>
<rect x="1188" y="323" width="1" height="18" fill="#000"/>
<rect x="1186" y="329" width="5" height="5" fill="#000"/>
<rect x="1196" y="330" width="1" height="22" fill="#000"/>
<rect x="1194" y="334" width="5" height="15" fill="#000"/>
<rect x="1204" y="339" width="1" height="48" fill="#000"/>
<rect x="1202.5" y="343.5" width="4" height="38" fill="#fff" stroke="#000" stroke-width="1"/>
<rect x="1212" y="337" width="1" height="20" fill="#000"/>
<rect x="1210.5" y="340.5" width="4" height="3" fill="#fff" stroke="#000" stroke-width="1"/>
<rect x="1220" y="300" width="1" height="43" fill="#000"/>
<rect x="1218.5" y="313.5" width="4" height="19" fill="#fff" stroke="#000" stroke-width="1"/>
<rect x="1228" y="297" width="1" height="23" fill="#000"/>
<rect x="1226.5" y="300.5" width="4" height="14" fill="#fff" stroke="#000" stroke-width="1"/>
<rect x="1236" y="330" width="1" height="30" fill="#000"/>
<rect x="1234" y="335" width="5" height="18" fill="#000"/>
<rect x="1244" y="337" width="1" height="29" fill="#000"/>
<rect x="1242.5" y="342.5" width="4" height="9" fill="#fff" stroke="#000" stroke-width="1"/>
<rect x="1252" y="328" width="1" height="34" fill="#000"/>
<rect x="1250" y="330" width="5" height="17" fill="#000"/>
<rect x="1260" y="343" width="1" height="34" fill="#000"/>
<rect x="1258" y="345" width="5" height="28" fill="#000"/>
<rect x="1268" y="306" width="1" height="50" fill="#000"/>
<rect x="1266.5" y="312.5" width="4" height="39" fill="#fff" stroke="#000" stroke-width="1"/>
<rect x="1276" y="286" width="1" height="31" fill="#000"/>
<rect x="1274.5" y="304.5" width="4" height="8" fill="#fff" stroke="#000" stroke-width="1"/>
<rect x="1284" y="275" width="1" height="34" fill="#000"/>
<rect x="1282.5" y="294.5" width="4" height="12" fill="#fff" stroke="#000" stroke-width="1"/>
<rect x="1292" y="285" width="1" height="13" fill="#000"/>
<rect x="1290.5" y="289.5" width="4" height="5" fill="#fff" stroke="#000" stroke-width="1"/>
<rect x="1300" y="255" width="1" height="39" fill="#000"/>
<rect x="1298.5" y="257.5" width="4" height="33" fill="#fff" stroke="#000" stroke-width="1"/>
<rect x="1308" y="246" width="1" height="15" fill="#000"/>
<rect x="1306.5" y="251.5" width="4" height="7" fill="#fff" stroke="#000" stroke-width="1"/>
<rect x="1316" y="235" width="1" height="27" fill="#000"/>
<rect x="1314.5" y="249.5" width="4" height="5" fill="#fff" stroke="#000" stroke-width="1"/>
<rect x="1324" y="246" width="1" height="37" fill="#000"/>
<rect x="1322" y="247" width="5" height="33" fill="#000"/>
<rect x="1332" y="274" width="1" height="23" fill="#000"/>
<rect x="1330" y="278" width="5" height="10" fill="#000"/>
<rect x="1340" y="264" width="1" height="35" fill="#000"/>
<rect x="1338" y="277" width="5" height="12" fill="#000"/>
<rect x="1348" y="284" width="1" height="35" fill="#000"/>
<rect x="1346" y="289" width="5" height="28" fill="#000"/>
<rect x="1356" y="298" width="1" height="80" fill="#000"/>
<rect x="1354" y="310" width="5" height="62" fill="#000"/>
<rect x="1364" y="363" width="1" height="24" fill="#000"/>
<rect x="1362" y="372" width="5" height="7" fill="#000"/>
<rect x="1372" y="365" width="1" height="46" fill="#000"/>
<rect x="1370" y="373" width="5" height="11" fill="#000"/>
<rect x="1380" y="382" width="1" height="17" fill="#000"/>
<rect x="1378" y="384" width="5" height="3" fill="#000"/>
<rect x="1388" y="385" width="1" height="38" fill="#000"/>
<rect x="1386" y="388" width="5" height="25" fill="#000"/>
<rect x="1396" y="392" width="1" height="26" fill="#000"/>
<rect x="1394.5" y="405.5" width="4" height="8" fill="#fff" stroke="#000" stroke-width="1"/>
<rect x="1404" y="407" width="1" height="30" fill="#000"/>
<rect x="1402.5" y="416.5" width="4" height="6" fill="#fff" stroke="#000" stroke-width="1"/>
<rect x="1412" y="400" width="1" height="34" fill="#000"/>
<rect x="1410.5" y="409.5" width="4" height="10" fill="#fff" stroke="#000" stroke-width="1"/>
<rect x="1420" y="413" width="1" height="71" fill="#000"/>
<rect x="1418" y="416" width="5" height="63" fill="#000"/>
<rect x="1428" y="478" width="1" height="40" fill="#000"/>
<rect x="1426" y="479" width="5" height="37" fill="#000"/>
</g>
<rect x="1493.5" y="502.5" width="110" height="24" fill="#fff" stroke="#303030" stroke-width="1" shape-rendering="crispEdges"/>
<rect x="1494" y="515" width="109" height="1" fill="#c0c0c0" shape-rendering="crispEdges"/>
<rect x="1546.5" y="500.5" width="2" height="2" fill="#fff" stroke="#32cd32" stroke-width="1" shape-rendering="crispEdges"/>
<text x="1493.6" y="521.7" font-size="21.3" fill="#00ff00" textLength="109.3" lengthAdjust="spacing" font-family='"Liberation Serif", "Noto Serif CJK SC", serif'>多空转折点</text>
<g shape-rendering="crispEdges">
<line x1="1324.5" y1="241" x2="1435.5" y2="499" stroke="#ff0000" stroke-width="3.6"/>
<line x1="1433.5" y1="494" x2="1462.3" y2="563" stroke="#ff0000" stroke-width="2.6"/>
<polygon points="1464.3,568.2 1455.6,559.6 1460.5,559.5 1466,555.8" fill="#ff0000"/>
</g>
<g shape-rendering="crispEdges">
<rect x="4" y="628" width="1" height="42" fill="#c0c0c0"/>
<rect x="12" y="636" width="1" height="34" fill="#c0c0c0"/>
<rect x="20" y="656" width="1" height="14" fill="#c0c0c0"/>
<rect x="28" y="670" width="1" height="5" fill="#c0c0c0"/>
<rect x="36" y="670" width="1" height="17" fill="#c0c0c0"/>
<rect x="44" y="670" width="1" height="25" fill="#c0c0c0"/>
<rect x="52" y="670" width="1" height="35" fill="#c0c0c0"/>
<rect x="60" y="670" width="1" height="44" fill="#c0c0c0"/>
<rect x="68" y="670" width="1" height="41" fill="#c0c0c0"/>
<rect x="76" y="670" width="1" height="35" fill="#c0c0c0"/>
<rect x="84" y="670" width="1" height="42" fill="#c0c0c0"/>
<rect x="92" y="670" width="1" height="46" fill="#c0c0c0"/>
<rect x="100" y="670" width="1" height="47" fill="#c0c0c0"/>
<rect x="108" y="670" width="1" height="53" fill="#c0c0c0"/>
<rect x="116" y="670" width="1" height="60" fill="#c0c0c0"/>
<rect x="124" y="670" width="1" height="68" fill="#c0c0c0"/>
<rect x="132" y="670" width="1" height="66" fill="#c0c0c0"/>
<rect x="140" y="670" width="1" height="66" fill="#c0c0c0"/>
<rect x="148" y="670" width="1" height="64" fill="#c0c0c0"/>
<rect x="156" y="670" width="1" height="62" fill="#c0c0c0"/>
<rect x="164" y="670" width="1" height="50" fill="#c0c0c0"/>
<rect x="172" y="670" width="1" height="41" fill="#c0c0c0"/>
<rect x="180" y="670" width="1" height="34" fill="#c0c0c0"/>
<rect x="188" y="670" width="1" height="38" fill="#c0c0c0"/>
<rect x="196" y="670" width="1" height="38" fill="#c0c0c0"/>
<rect x="204" y="670" width="1" height="38" fill="#c0c0c0"/>
<rect x="212" y="670" width="1" height="35" fill="#c0c0c0"/>
<rect x="220" y="670" width="1" height="33" fill="#c0c0c0"/>
<rect x="228" y="670" width="1" height="30" fill="#c0c0c0"/>
<rect x="236" y="670" width="1" height="28" fill="#c0c0c0"/>
<rect x="244" y="670" width="1" height="17" fill="#c0c0c0"/>
<rect x="252" y="670" width="1" height="10" fill="#c0c0c0"/>
<rect x="260" y="670" width="1" height="12" fill="#c0c0c0"/>
<rect x="268" y="670" width="1" height="14" fill="#c0c0c0"/>
<rect x="276" y="670" width="1" height="16" fill="#c0c0c0"/>
<rect x="284" y="670" width="1" height="19" fill="#c0c0c0"/>
<rect x="292" y="670" width="1" height="26" fill="#c0c0c0"/>
<rect x="300" y="670" width="1" height="32" fill="#c0c0c0"/>
<rect x="308" y="670" width="1" height="46" fill="#c0c0c0"/>
<rect x="316" y="670" width="1" height="57" fill="#c0c0c0"/>
<rect x="324" y="670" width="1" height="66" fill="#c0c0c0"/>
<rect x="332" y="670" width="1" height="72" fill="#c0c0c0"/>
<rect x="340" y="670" width="1" height="71" fill="#c0c0c0"/>
<rect x="348" y="670" width="1" height="67" fill="#c0c0c0"/>
<rect x="356" y="670" width="1" height="61" fill="#c0c0c0"/>
<rect x="364" y="670" width="1" height="57" fill="#c0c0c0"/>
<rect x="372" y="670" width="1" height="47" fill="#c0c0c0"/>
<rect x="380" y="670" width="1" height="41" fill="#c0c0c0"/>
<rect x="388" y="670" width="1" height="38" fill="#c0c0c0"/>
<rect x="396" y="670" width="1" height="36" fill="#c0c0c0"/>
<rect x="404" y="670" width="1" height="29" fill="#c0c0c0"/>
<rect x="412" y="670" width="1" height="20" fill="#c0c0c0"/>
<rect x="420" y="670" width="1" height="15" fill="#c0c0c0"/>
<rect x="428" y="670" width="1" height="14" fill="#c0c0c0"/>
<rect x="436" y="670" width="1" height="5" fill="#c0c0c0"/>
<rect x="444" y="669" width="1" height="1" fill="#c0c0c0"/>
<rect x="452" y="667" width="1" height="3" fill="#c0c0c0"/>
<rect x="460" y="668" width="1" height="2" fill="#c0c0c0"/>
<rect x="468" y="670" width="1" height="1" fill="#c0c0c0"/>
<rect x="476" y="670" width="1" height="4" fill="#c0c0c0"/>
<rect x="484" y="670" width="1" height="1" fill="#c0c0c0"/>
<rect x="492" y="669" width="1" height="1" fill="#c0c0c0"/>
<rect x="500" y="670" width="1" height="1" fill="#c0c0c0"/>
<rect x="508" y="666" width="1" height="4" fill="#c0c0c0"/>
<rect x="516" y="668" width="1" height="2" fill="#c0c0c0"/>
<rect x="524" y="666" width="1" height="4" fill="#c0c0c0"/>
<rect x="532" y="665" width="1" height="5" fill="#c0c0c0"/>
<rect x="540" y="660" width="1" height="10" fill="#c0c0c0"/>
<rect x="548" y="653" width="1" height="17" fill="#c0c0c0"/>
<rect x="556" y="650" width="1" height="20" fill="#c0c0c0"/>
<rect x="564" y="648" width="1" height="22" fill="#c0c0c0"/>
<rect x="572" y="646" width="1" height="24" fill="#c0c0c0"/>
<rect x="580" y="653" width="1" height="17" fill="#c0c0c0"/>
<rect x="588" y="660" width="1" height="10" fill="#c0c0c0"/>
<rect x="596" y="663" width="1" height="7" fill="#c0c0c0"/>
<rect x="604" y="664" width="1" height="6" fill="#c0c0c0"/>
<rect x="612" y="661" width="1" height="9" fill="#c0c0c0"/>
<rect x="620" y="658" width="1" height="12" fill="#c0c0c0"/>
<rect x="628" y="655" width="1" height="15" fill="#c0c0c0"/>
<rect x="636" y="656" width="1" height="14" fill="#c0c0c0"/>
<rect x="644" y="656" width="1" height="14" fill="#c0c0c0"/>
<rect x="652" y="658" width="1" height="12" fill="#c0c0c0"/>
<rect x="660" y="660" width="1" height="10" fill="#c0c0c0"/>
<rect x="668" y="662" width="1" height="8" fill="#c0c0c0"/>
<rect x="676" y="659" width="1" height="11" fill="#c0c0c0"/>
<rect x="684" y="656" width="1" height="14" fill="#c0c0c0"/>
<rect x="692" y="662" width="1" height="8" fill="#c0c0c0"/>
<rect x="700" y="670" width="1" height="1" fill="#c0c0c0"/>
<rect x="708" y="670" width="1" height="12" fill="#c0c0c0"/>
<rect x="716" y="670" width="1" height="22" fill="#c0c0c0"/>
<rect x="724" y="670" width="1" height="27" fill="#c0c0c0"/>
<rect x="732" y="670" width="1" height="27" fill="#c0c0c0"/>
<rect x="740" y="670" width="1" height="28" fill="#c0c0c0"/>
<rect x="748" y="670" width="1" height="30" fill="#c0c0c0"/>
<rect x="756" y="670" width="1" height="31" fill="#c0c0c0"/>
<rect x="764" y="670" width="1" height="28" fill="#c0c0c0"/>
<rect x="772" y="670" width="1" height="22" fill="#c0c0c0"/>
<rect x="780" y="670" width="1" height="21" fill="#c0c0c0"/>
<rect x="788" y="670" width="1" height="21" fill="#c0c0c0"/>
<rect x="796" y="670" width="1" height="20" fill="#c0c0c0"/>
<rect x="804" y="670" width="1" height="31" fill="#c0c0c0"/>
<rect x="812" y="670" width="1" height="39" fill="#c0c0c0"/>
<rect x="820" y="670" width="1" height="46" fill="#c0c0c0"/>
<rect x="828" y="670" width="1" height="46" fill="#c0c0c0"/>
<rect x="836" y="670" width="1" height="49" fill="#c0c0c0"/>
<rect x="844" y="670" width="1" height="56" fill="#c0c0c0"/>
<rect x="852" y="670" width="1" height="56" fill="#c0c0c0"/>
<rect x="860" y="670" width="1" height="53" fill="#c0c0c0"/>
<rect x="868" y="670" width="1" height="48" fill="#c0c0c0"/>
<rect x="876" y="670" width="1" height="43" fill="#c0c0c0"/>
<rect x="884" y="670" width="1" height="33" fill="#c0c0c0"/>
<rect x="892" y="670" width="1" height="23" fill="#c0c0c0"/>
<rect x="900" y="670" width="1" height="19" fill="#c0c0c0"/>
<rect x="908" y="670" width="1" height="15" fill="#c0c0c0"/>
<rect x="916" y="670" width="1" height="12" fill="#c0c0c0"/>
<rect x="924" y="670" width="1" height="9" fill="#c0c0c0"/>
<rect x="932" y="670" width="1" height="8" fill="#c0c0c0"/>
<rect x="940" y="670" width="1" height="5" fill="#c0c0c0"/>
<rect x="948" y="667" width="1" height="3" fill="#c0c0c0"/>
<rect x="956" y="657" width="1" height="13" fill="#c0c0c0"/>
<rect x="964" y="646" width="1" height="24" fill="#c0c0c0"/>
<rect x="972" y="636" width="1" height="34" fill="#c0c0c0"/>
<rect x="980" y="631" width="1" height="39" fill="#c0c0c0"/>
<rect x="988" y="627" width="1" height="43" fill="#c0c0c0"/>
<rect x="996" y="622" width="1" height="48" fill="#c0c0c0"/>
<rect x="1004" y="622" width="1" height="48" fill="#c0c0c0"/>
<rect x="1012" y="625" width="1" height="45" fill="#c0c0c0"/>
<rect x="1020" y="626" width="1" height="44" fill="#c0c0c0"/>
<rect x="1028" y="624" width="1" height="46" fill="#c0c0c0"/>
<rect x="1036" y="620" width="1" height="50" fill="#c0c0c0"/>
<rect x="1044" y="619" width="1" height="51" fill="#c0c0c0"/>
<rect x="1052" y="620" width="1" height="50" fill="#c0c0c0"/>
<rect x="1060" y="624" width="1" height="46" fill="#c0c0c0"/>
<rect x="1068" y="631" width="1" height="39" fill="#c0c0c0"/>
<rect x="1076" y="635" width="1" height="35" fill="#c0c0c0"/>
<rect x="1084" y="641" width="1" height="29" fill="#c0c0c0"/>
<rect x="1092" y="650" width="1" height="20" fill="#c0c0c0"/>
<rect x="1100" y="654" width="1" height="16" fill="#c0c0c0"/>
<rect x="1108" y="660" width="1" height="10" fill="#c0c0c0"/>
<rect x="1116" y="664" width="1" height="6" fill="#c0c0c0"/>
<rect x="1124" y="667" width="1" height="3" fill="#c0c0c0"/>
<rect x="1132" y="669" width="1" height="1" fill="#c0c0c0"/>
<rect x="1140" y="670" width="1" height="1" fill="#c0c0c0"/>
<rect x="1148" y="670" width="1" height="1" fill="#c0c0c0"/>
<rect x="1156" y="670" width="1" height="1" fill="#c0c0c0"/>
<rect x="1164" y="670" width="1" height="1" fill="#c0c0c0"/>
<rect x="1172" y="670" width="1" height="4" fill="#c0c0c0"/>
<rect x="1180" y="670" width="1" height="8" fill="#c0c0c0"/>
<rect x="1188" y="670" width="1" height="11" fill="#c0c0c0"/>
<rect x="1196" y="670" width="1" height="16" fill="#c0c0c0"/>
<rect x="1204" y="670" width="1" height="18" fill="#c0c0c0"/>
<rect x="1212" y="670" width="1" height="19" fill="#c0c0c0"/>
<rect x="1220" y="670" width="1" height="15" fill="#c0c0c0"/>
<rect x="1228" y="670" width="1" height="11" fill="#c0c0c0"/>
<rect x="1236" y="670" width="1" height="12" fill="#c0c0c0"/>
<rect x="1244" y="670" width="1" height="15" fill="#c0c0c0"/>
<rect x="1252" y="670" width="1" height="17" fill="#c0c0c0"/>
<rect x="1260" y="670" width="1" height="23" fill="#c0c0c0"/>
<rect x="1268" y="670" width="1" height="17" fill="#c0c0c0"/>
<rect x="1276" y="670" width="1" height="12" fill="#c0c0c0"/>
<rect x="1284" y="670" width="1" height="7" fill="#c0c0c0"/>
<rect x="1292" y="670" width="1" height="2" fill="#c0c0c0"/>
<rect x="1300" y="664" width="1" height="6" fill="#c0c0c0"/>
<rect x="1308" y="657" width="1" height="13" fill="#c0c0c0"/>
<rect x="1316" y="651" width="1" height="19" fill="#c0c0c0"/>
<rect x="1324" y="651" width="1" height="19" fill="#c0c0c0"/>
<rect x="1332" y="651" width="1" height="19" fill="#c0c0c0"/>
<rect x="1340" y="653" width="1" height="17" fill="#c0c0c0"/>
<rect x="1348" y="658" width="1" height="12" fill="#c0c0c0"/>
<rect x="1356" y="670" width="1" height="5" fill="#c0c0c0"/>
<rect x="1364" y="670" width="1" height="14" fill="#c0c0c0"/>
<rect x="1372" y="670" width="1" height="21" fill="#c0c0c0"/>
<rect x="1380" y="670" width="1" height="25" fill="#c0c0c0"/>
<rect x="1388" y="670" width="1" height="32" fill="#c0c0c0"/>
<rect x="1396" y="670" width="1" height="36" fill="#c0c0c0"/>
<rect x="1404" y="670" width="1" height="42" fill="#c0c0c0"/>
<rect x="1412" y="670" width="1" height="46" fill="#c0c0c0"/>
<rect x="1420" y="670" width="1" height="60" fill="#c0c0c0"/>
<rect x="1428" y="670" width="1" height="71" fill="#c0c0c0"/>
<polyline points="1.4,593.5 14.1,604.8 28.2,623.1 42.3,641.5 56.4,662.6 70.5,681.0 87.5,698.5 107.2,710.6 124.2,718.5 143.9,725.3 163.7,730.4 180.6,726.1 197.5,720.5 214.4,712.9 231.4,706.4 248.3,700.7 270.9,693.7 293.5,689.5 307.6,690.9 321.7,699.3 338.6,714.8 355.5,724.7 366.8,729.8 383.7,729.8 400.7,721.9 423.3,706.4 445.8,690.9 465.6,679.6 480.0,675.3 508.2,671.1 533.6,669.7 547.7,666.0 564.6,659.3 578.8,656.2 592.9,654.5 612.6,654.5 635.2,656.2 655.0,658.4 671.9,657.9 686.0,656.2 702.9,660.4 719.8,667.7 739.6,678.2 762.2,690.9 776.3,695.7 790.4,696.2 801.7,695.1 818.6,699.3 832.7,701.6 846.8,708.4 860.9,714.8 876.4,719.1 892.0,716.8 908.9,709.2 925.8,698.8 942.8,686.6 960.0,675.9 974.1,665.5 988.2,653.6 1002.3,642.9 1016.4,633.9 1030.5,627.4 1044.6,623.1 1058.8,622.3 1072.9,624.0 1089.8,627.9 1106.7,635.8 1123.7,645.7 1140.6,655.6 1151.9,661.2 1163.2,664.1 1180.1,669.7 1199.8,675.3 1219.6,681.0 1242.2,685.2 1264.7,688.0 1284.5,685.2 1298.6,683.0 1312.7,676.8 1326.8,668.3 1340.9,661.2 1355.0,658.4 1369.1,659.8 1383.2,666.9 1400.2,681.0 1414.3,695.1 1428.4,707.8" fill="none" stroke="#ff0000" stroke-width="1" stroke-dasharray="3 3.5"/>
</g>
<g shape-rendering="crispEdges"><line x1="1332.5" y1="651" x2="1429.5" y2="735.5" stroke="#ff0000" stroke-width="3.8"/>
<polygon points="1433.2,738.8 1420.8,734.8 1426.6,727.6" fill="#ff0000"/></g>
<g shape-rendering="crispEdges">
<line x1="3" y1="788.5" x2="1654" y2="788.5" stroke="#c0c0c0" stroke-width="1" stroke-dasharray="3 3"/>
<line x1="3" y1="839.5" x2="1654" y2="839.5" stroke="#c0c0c0" stroke-width="1" stroke-dasharray="3 3"/>
<line x1="3" y1="900.5" x2="1654" y2="900.5" stroke="#c0c0c0" stroke-width="1" stroke-dasharray="3 3"/>
</g>
<polyline points="-4.0,848.0 4.0,835.2 12.0,840.9 20.0,853.6 28.0,858.4 36.0,853.6 44.0,851.3 52.0,855.0 60.0,857.2 68.0,844.6 76.0,839.5 84.0,853.0 92.0,850.2 100.0,850.8 108.0,853.0 116.0,857.8 124.0,861.5 132.0,850.2 140.0,852.2 148.0,851.3 156.0,851.3 164.0,836.1 172.0,838.1 180.0,838.1 188.0,852.2 196.0,847.4 204.0,848.5 212.0,844.3 220.0,845.1 228.0,844.3 236.0,843.1 244.0,828.7 252.0,832.4 260.0,846.5 268.0,845.1 276.0,845.7 284.0,847.9 292.0,859.2 300.0,859.2 308.0,871.1 316.0,872.5 324.0,872.5 332.0,873.3 340.0,859.2 348.0,854.4 356.0,849.3 364.0,850.2 372.0,838.1 380.0,843.1 388.0,846.5 396.0,850.2 404.0,837.5 412.0,831.6 420.0,835.8 428.0,842.3 436.0,828.7 444.0,825.4 452.0,835.8 460.0,840.0 468.0,849.3 476.0,847.1 484.0,837.5 492.0,843.1 500.0,833.8 508.0,830.4 516.0,842.3 524.0,835.5 532.0,835.2 540.0,829.0 548.0,822.5 556.0,830.4 564.0,828.2 572.0,828.2 580.0,845.1 588.0,848.5 596.0,841.7 604.0,840.0 612.0,831.0 620.0,829.0 628.0,828.2 636.0,833.8 644.0,836.1 652.0,837.2 660.0,841.4 668.0,838.9 676.0,828.2 684.0,827.1 692.0,848.5 700.0,853.0 708.0,866.3 716.0,864.9 724.0,858.4 732.0,849.3 740.0,850.2 748.0,854.1 756.0,853.0 764.0,843.1 772.0,837.2 780.0,842.9 788.0,849.3 796.0,845.1 804.0,867.1 812.0,867.1 820.0,869.4 828.0,855.6 836.0,860.6 844.0,867.7 852.0,855.6 860.0,852.2 868.0,847.9 876.0,843.7 884.0,831.3 892.0,831.3 900.0,838.1 908.0,838.1 916.0,839.5 924.0,836.1 932.0,840.0 940.0,836.1 948.0,820.3 956.0,814.6 964.0,810.4 972.0,808.4 980.0,817.5 988.0,814.9 996.0,811.3 1004.0,822.0 1012.0,828.2 1020.0,825.4 1028.0,818.3 1036.0,812.1 1044.0,820.6 1052.0,824.0 1060.0,827.6 1068.0,836.7 1076.0,835.2 1084.0,840.0 1092.0,847.9 1100.0,842.3 1108.0,847.9 1116.0,844.3 1124.0,844.3 1132.0,842.9 1140.0,838.9 1148.0,847.9 1156.0,838.1 1164.0,836.7 1172.0,850.8 1180.0,853.0 1188.0,853.0 1196.0,859.2 1204.0,855.0 1212.0,854.1 1220.0,838.9 1228.0,834.4 1236.0,854.1 1244.0,850.2 1252.0,851.3 1260.0,860.1 1268.0,836.1 1276.0,833.3 1284.0,830.4 1292.0,829.0 1300.0,819.7 1308.0,817.5 1316.0,817.5 1324.0,829.6 1332.0,835.8 1340.0,834.4 1348.0,843.7 1356.0,862.0 1364.0,864.0 1372.0,864.9 1380.0,866.3 1388.0,872.8 1396.0,869.1 1404.0,871.4 1412.0,867.7 1420.0,882.6 1428.0,890.3" fill="none" stroke="#1e90ff" stroke-width="1.1"/>
<g shape-rendering="crispEdges"><line x1="1306.5" y1="817.5" x2="1427" y2="888" stroke="#ff0000" stroke-width="3.6"/>
<polygon points="1431.2,890.4 1417.8,888.6 1423.4,880.6" fill="#ff0000"/></g>
<g shape-rendering="crispEdges" fill="#000">
<rect x="0" y="25" width="1655" height="1"/>
<rect x="1654" y="25" width="1" height="902"/>
<rect x="0" y="578" width="1655" height="1"/>
<rect x="0" y="580" width="1655" height="1"/>
<rect x="0" y="750" width="1655" height="1"/>
<rect x="0" y="752" width="1655" height="1"/>
<rect x="0" y="926" width="1655" height="1"/>
</g>
<rect x="0" y="579" width="1701" height="1" fill="#fff"/><rect x="0" y="751" width="1701" height="1" fill="#fff"/>
<rect x="1655" y="47" width="2" height="1" fill="#000" shape-rendering="crispEdges"/>
<text transform="translate(1660,50.7) scale(0.94,1)" font-size="9.7" fill="#000" font-family='"Liberation Sans", sans-serif'>30698.0</text>
<rect x="1655" y="80" width="2" height="1" fill="#000" shape-rendering="crispEdges"/>
<text transform="translate(1660,83.7) scale(0.94,1)" font-size="9.7" fill="#000" font-family='"Liberation Sans", sans-serif'>30443.0</text>
<rect x="1655" y="113" width="2" height="1" fill="#000" shape-rendering="crispEdges"/>
<text transform="translate(1660,116.7) scale(0.94,1)" font-size="9.7" fill="#000" font-family='"Liberation Sans", sans-serif'>30188.0</text>
<rect x="1655" y="146" width="2" height="1" fill="#000" shape-rendering="crispEdges"/>
<text transform="translate(1660,149.7) scale(0.94,1)" font-size="9.7" fill="#000" font-family='"Liberation Sans", sans-serif'>29933.0</text>
<rect x="1655" y="179" width="2" height="1" fill="#000" shape-rendering="crispEdges"/>
<text transform="translate(1660,182.7) scale(0.94,1)" font-size="9.7" fill="#000" font-family='"Liberation Sans", sans-serif'>29678.0</text>
<rect x="1655" y="212" width="2" height="1" fill="#000" shape-rendering="crispEdges"/>
<text transform="translate(1660,215.7) scale(0.94,1)" font-size="9.7" fill="#000" font-family='"Liberation Sans", sans-serif'>29423.0</text>
<rect x="1655" y="245" width="2" height="1" fill="#000" shape-rendering="crispEdges"/>
<text transform="translate(1660,248.7) scale(0.94,1)" font-size="9.7" fill="#000" font-family='"Liberation Sans", sans-serif'>29168.0</text>
<rect x="1655" y="278" width="2" height="1" fill="#000" shape-rendering="crispEdges"/>
<text transform="translate(1660,281.7) scale(0.94,1)" font-size="9.7" fill="#000" font-family='"Liberation Sans", sans-serif'>28913.0</text>
<rect x="1655" y="311" width="2" height="1" fill="#000" shape-rendering="crispEdges"/>
<text transform="translate(1660,314.7) scale(0.94,1)" font-size="9.7" fill="#000" font-family='"Liberation Sans", sans-serif'>28658.0</text>
<rect x="1655" y="344" width="2" height="1" fill="#000" shape-rendering="crispEdges"/>
<text transform="translate(1660,347.7) scale(0.94,1)" font-size="9.7" fill="#000" font-family='"Liberation Sans", sans-serif'>28403.0</text>
<rect x="1655" y="377" width="2" height="1" fill="#000" shape-rendering="crispEdges"/>
<text transform="translate(1660,380.7) scale(0.94,1)" font-size="9.7" fill="#000" font-family='"Liberation Sans", sans-serif'>28148.0</text>
<rect x="1655" y="410" width="2" height="1" fill="#000" shape-rendering="crispEdges"/>
<text transform="translate(1660,413.7) scale(0.94,1)" font-size="9.7" fill="#000" font-family='"Liberation Sans", sans-serif'>27893.0</text>
<rect x="1655" y="443" width="2" height="1" fill="#000" shape-rendering="crispEdges"/>
<text transform="translate(1660,446.7) scale(0.94,1)" font-size="9.7" fill="#000" font-family='"Liberation Sans", sans-serif'>27638.0</text>
<rect x="1655" y="476" width="2" height="1" fill="#000" shape-rendering="crispEdges"/>
<text transform="translate(1660,479.7) scale(0.94,1)" font-size="9.7" fill="#000" font-family='"Liberation Sans", sans-serif'>27383.0</text>
<rect x="1655" y="509" width="2" height="1" fill="#000" shape-rendering="crispEdges"/>
<text transform="translate(1660,512.7) scale(0.94,1)" font-size="9.7" fill="#000" font-family='"Liberation Sans", sans-serif'>27128.0</text>
<rect x="1655" y="542" width="2" height="1" fill="#000" shape-rendering="crispEdges"/>
<text transform="translate(1660,545.7) scale(0.94,1)" font-size="9.7" fill="#000" font-family='"Liberation Sans", sans-serif'>26873.0</text>
<rect x="1655" y="575" width="2" height="1" fill="#000" shape-rendering="crispEdges"/>
<text transform="translate(1660,578.7) scale(0.94,1)" font-size="9.7" fill="#000" font-family='"Liberation Sans", sans-serif'>26625.5</text>
<text transform="translate(1658.5,590.5) scale(0.94,1)" font-size="9.7" fill="#000" font-family='"Liberation Sans", sans-serif'>396.15</text>
<rect x="1655" y="670" width="2" height="1" fill="#000" shape-rendering="crispEdges"/>
<text transform="translate(1658.5,673.7) scale(0.94,1)" font-size="9.7" fill="#000" font-family='"Liberation Sans", sans-serif'>0.00</text>
<text transform="translate(1658.5,746.5) scale(0.94,1)" font-size="9.7" fill="#000" font-family='"Liberation Sans", sans-serif'>-352.78</text>
<text transform="translate(1658.5,762.5) scale(0.94,1)" font-size="9.7" fill="#000" font-family='"Liberation Sans", sans-serif'>100</text>
<rect x="1655" y="788" width="2" height="1" fill="#000" shape-rendering="crispEdges"/>
<text transform="translate(1658.5,791.7) scale(0.94,1)" font-size="9.7" fill="#000" font-family='"Liberation Sans", sans-serif'>80</text>
<rect x="1655" y="839" width="2" height="1" fill="#000" shape-rendering="crispEdges"/>
<text transform="translate(1658.5,842.7) scale(0.94,1)" font-size="9.7" fill="#000" font-family='"Liberation Sans", sans-serif'>50</text>
<rect x="1655" y="900" width="2" height="1" fill="#000" shape-rendering="crispEdges"/>
<text transform="translate(1658.5,903.7) scale(0.94,1)" font-size="9.7" fill="#000" font-family='"Liberation Sans", sans-serif'>15</text>
<text transform="translate(1658.5,922.5) scale(0.94,1)" font-size="9.7" fill="#000" font-family='"Liberation Sans", sans-serif'>0</text>
<rect x="1656" y="457" width="41" height="11" fill="#ff0000" shape-rendering="crispEdges"/>
<text transform="translate(1660,465.4) scale(0.94,1)" font-size="9.7" fill="#fff" font-family='"Liberation Sans", sans-serif'>27487.0</text>
<rect x="1656" y="480" width="41" height="11" fill="#ff0000" shape-rendering="crispEdges"/>
<text transform="translate(1660,488.4) scale(0.94,1)" font-size="9.7" fill="#fff" font-family='"Liberation Sans", sans-serif'>27311.7</text>
<rect x="1656" y="497" width="41" height="11" fill="#32cd32" shape-rendering="crispEdges"/>
<text transform="translate(1660,505.4) scale(0.94,1)" font-size="9.7" fill="#fff" font-family='"Liberation Sans", sans-serif'>27180.7</text>
<rect x="1656" y="510" width="41" height="11" fill="#000" shape-rendering="crispEdges"/>
<text transform="translate(1660,518.4) scale(0.94,1)" font-size="9.7" fill="#fff" font-family='"Liberation Sans", sans-serif'>27086.0</text>
<rect x="1656" y="534" width="41" height="11" fill="#0000ff" shape-rendering="crispEdges"/>
<text transform="translate(1660,542.4) scale(0.94,1)" font-size="9.7" fill="#fff" font-family='"Liberation Sans", sans-serif'>26891.9</text>
<rect x="1656" y="561" width="41" height="11" fill="#0000ff" shape-rendering="crispEdges"/>
<text transform="translate(1660,569.4) scale(0.94,1)" font-size="9.7" fill="#fff" font-family='"Liberation Sans", sans-serif'>26682.5</text>
<text x="11.5" y="37" font-size="9.7" fill="#000" textLength="187.3" lengthAdjust="spacingAndGlyphs" font-family='"Liberation Sans", sans-serif'>HK50-,H4&#160;&#160;27363.0 27372.0 27070.0 27086.0</text>
<polygon points="0,36 3,32 6,36" fill="#000"/>
<text x="1" y="593" font-size="9.7" fill="#000" textLength="132.7" lengthAdjust="spacingAndGlyphs" font-family='"Liberation Sans", sans-serif'>MACD(12,26,9) -316.44 -169.12</text>
<text x="1" y="765" font-size="9.7" fill="#000" textLength="66.9" lengthAdjust="spacingAndGlyphs" font-family='"Liberation Sans", sans-serif'>RSI(14) 21.5837</text>
<polygon points="1432,26 1443,26 1437.5,31" fill="#c0c0c0"/>
<text transform="translate(1,938.8) scale(0.94,1)" font-size="9.7" fill="#000" font-family='"Liberation Sans", sans-serif'>4 Feb 2021</text>
<rect x="60" y="927" width="1" height="3" fill="#000" shape-rendering="crispEdges"/>
<text transform="translate(59,938.8) scale(0.94,1)" font-size="9.7" fill="#000" font-family='"Liberation Sans", sans-serif'>2 Mar 05:00</text>
<rect x="124" y="927" width="1" height="3" fill="#000" shape-rendering="crispEdges"/>
<text transform="translate(123,938.8) scale(0.94,1)" font-size="9.7" fill="#000" font-family='"Liberation Sans", sans-serif'>8 Mar 05:00</text>
<rect x="188" y="927" width="1" height="3" fill="#000" shape-rendering="crispEdges"/>
<text transform="translate(187,938.8) scale(0.94,1)" font-size="9.7" fill="#000" font-family='"Liberation Sans", sans-serif'>12 Mar 05:00</text>
<rect x="252" y="927" width="1" height="3" fill="#000" shape-rendering="crispEdges"/>
<text transform="translate(251,938.8) scale(0.94,1)" font-size="9.7" fill="#000" font-family='"Liberation Sans", sans-serif'>18 Mar 05:00</text>
<rect x="316" y="927" width="1" height="3" fill="#000" shape-rendering="crispEdges"/>
<text transform="translate(315,938.8) scale(0.94,1)" font-size="9.7" fill="#000" font-family='"Liberation Sans", sans-serif'>24 Mar 05:00</text>
<rect x="380" y="927" width="1" height="3" fill="#000" shape-rendering="crispEdges"/>
<text transform="translate(379,938.8) scale(0.94,1)" font-size="9.7" fill="#000" font-family='"Liberation Sans", sans-serif'>30 Mar 05:00</text>
<rect x="444" y="927" width="1" height="3" fill="#000" shape-rendering="crispEdges"/>
<text transform="translate(443,938.8) scale(0.94,1)" font-size="9.7" fill="#000" font-family='"Liberation Sans", sans-serif'>8 Apr 05:00</text>
<rect x="508" y="927" width="1" height="3" fill="#000" shape-rendering="crispEdges"/>
<text transform="translate(507,938.8) scale(0.94,1)" font-size="9.7" fill="#000" font-family='"Liberation Sans", sans-serif'>14 Apr 05:00</text>
<rect x="572" y="927" width="1" height="3" fill="#000" shape-rendering="crispEdges"/>
<text transform="translate(571,938.8) scale(0.94,1)" font-size="9.7" fill="#000" font-family='"Liberation Sans", sans-serif'>20 Apr 05:00</text>
<rect x="636" y="927" width="1" height="3" fill="#000" shape-rendering="crispEdges"/>
<text transform="translate(635,938.8) scale(0.94,1)" font-size="9.7" fill="#000" font-family='"Liberation Sans", sans-serif'>26 Apr 05:00</text>
<rect x="700" y="927" width="1" height="3" fill="#000" shape-rendering="crispEdges"/>
<text transform="translate(699,938.8) scale(0.94,1)" font-size="9.7" fill="#000" font-family='"Liberation Sans", sans-serif'>30 Apr 05:00</text>
<rect x="764" y="927" width="1" height="3" fill="#000" shape-rendering="crispEdges"/>
<text transform="translate(763,938.8) scale(0.94,1)" font-size="9.7" fill="#000" font-family='"Liberation Sans", sans-serif'>6 May 05:00</text>
<rect x="828" y="927" width="1" height="3" fill="#000" shape-rendering="crispEdges"/>
<text transform="translate(827,938.8) scale(0.94,1)" font-size="9.7" fill="#000" font-family='"Liberation Sans", sans-serif'>12 May 05:00</text>
<rect x="892" y="927" width="1" height="3" fill="#000" shape-rendering="crispEdges"/>
<text transform="translate(891,938.8) scale(0.94,1)" font-size="9.7" fill="#000" font-family='"Liberation Sans", sans-serif'>18 May 05:00</text>
<rect x="956" y="927" width="1" height="3" fill="#000" shape-rendering="crispEdges"/>
<text transform="translate(955,938.8) scale(0.94,1)" font-size="9.7" fill="#000" font-family='"Liberation Sans", sans-serif'>25 May 05:00</text>
<rect x="1020" y="927" width="1" height="3" fill="#000" shape-rendering="crispEdges"/>
<text transform="translate(1019,938.8) scale(0.94,1)" font-size="9.7" fill="#000" font-family='"Liberation Sans", sans-serif'>31 May 05:00</text>
<rect x="1084" y="927" width="1" height="3" fill="#000" shape-rendering="crispEdges"/>
<text transform="translate(1083,938.8) scale(0.94,1)" font-size="9.7" fill="#000" font-family='"Liberation Sans", sans-serif'>4 Jun 05:00</text>
<rect x="1148" y="927" width="1" height="3" fill="#000" shape-rendering="crispEdges"/>
<text transform="translate(1147,938.8) scale(0.94,1)" font-size="9.7" fill="#000" font-family='"Liberation Sans", sans-serif'>10 Jun 05:00</text>
<rect x="1212" y="927" width="1" height="3" fill="#000" shape-rendering="crispEdges"/>
<text transform="translate(1211,938.8) scale(0.94,1)" font-size="9.7" fill="#000" font-family='"Liberation Sans", sans-serif'>17 Jun 05:00</text>
<rect x="1276" y="927" width="1" height="3" fill="#000" shape-rendering="crispEdges"/>
<text transform="translate(1275,938.8) scale(0.94,1)" font-size="9.7" fill="#000" font-family='"Liberation Sans", sans-serif'>23 Jun 05:00</text>
<rect x="1340" y="927" width="1" height="3" fill="#000" shape-rendering="crispEdges"/>
<text transform="translate(1339,938.8) scale(0.94,1)" font-size="9.7" fill="#000" font-family='"Liberation Sans", sans-serif'>30 Jun 01:15</text>
<rect x="1404" y="927" width="1" height="3" fill="#000" shape-rendering="crispEdges"/>
<text transform="translate(1403,938.8) scale(0.94,1)" font-size="9.7" fill="#000" font-family='"Liberation Sans", sans-serif'>7 Jul 01:15</text>
<rect x="0" y="44" width="220" height="60" fill="#fff"/>
<rect x="0" y="45" width="51" height="25" fill="#c81818"/><rect x="166" y="45" width="52" height="25" fill="#c81818"/>
<rect x="0" y="46" width="50" height="23" fill="url(#gsell)"/><rect x="167" y="46" width="51" height="23" fill="url(#gsell)"/>
<rect x="0" y="69" width="108" height="33" fill="url(#gprice)"/><rect x="110" y="69" width="108" height="33" fill="url(#gprice)"/>
<rect x="3" y="68" width="44" height="1" fill="#a80808"/><rect x="170" y="68" width="44" height="1" fill="#a80808"/>
<rect x="3" y="69" width="44" height="1" fill="#f29090"/><rect x="170" y="69" width="44" height="1" fill="#f29090"/>
<rect x="0" y="101" width="108" height="1" fill="#980000"/><rect x="110" y="101" width="108" height="1" fill="#980000"/>
<rect x="53.5" y="45.5" width="110" height="21" fill="#fff" stroke="#a4a8b4" stroke-width="1"/>
<rect x="55" y="47" width="18" height="18" fill="url(#gbtn)"/><rect x="144" y="47" width="18" height="18" fill="url(#gbtn)"/>
<rect x="74" y="46" width="1" height="20" fill="#b4b8c4"/><rect x="142" y="46" width="1" height="20" fill="#b4b8c4"/>
<polygon points="60.8,54.3 66.4,54.3 63.6,57.4" fill="#4656b4"/><polygon points="149.6,57.2 155.4,57.2 152.5,54.1" fill="#4656b4"/>
<text x="138.8" y="60.6" font-size="12.6" fill="#101830" text-anchor="end" font-family='"Liberation Sans", sans-serif'>1.00</text>
<text x="11.3" y="60.7" font-size="12" fill="#fff" textLength="25.7" lengthAdjust="spacingAndGlyphs" font-family='"Liberation Sans", sans-serif'>SELL</text>
<text x="179.5" y="60.7" font-size="12" fill="#fff" textLength="23" lengthAdjust="spacingAndGlyphs" font-family='"Liberation Sans", sans-serif'>BUY</text>
<text x="15.2" y="96.7" font-size="11.9" font-weight="bold" fill="#fff" textLength="34.2" lengthAdjust="spacingAndGlyphs" font-family='"Liberation Sans", sans-serif'>27084</text>
<text x="125.3" y="96.7" font-size="11.9" font-weight="bold" fill="#fff" textLength="33.9" lengthAdjust="spacingAndGlyphs" font-family='"Liberation Sans", sans-serif'>27105</text>
<rect x="54.2" y="92.5" width="4.6" height="4.5" rx="1.2" fill="#fff"/><text x="61.2" y="97" font-size="33.5" fill="#fff" textLength="15.4" lengthAdjust="spacingAndGlyphs" font-family='"Liberation Sans", sans-serif'>5</text>
<rect x="165.3" y="92.5" width="4.6" height="4.5" rx="1.2" fill="#fff"/><text x="172.2" y="97" font-size="33.5" fill="#fff" textLength="15.4" lengthAdjust="spacingAndGlyphs" font-family='"Liberation Sans", sans-serif'>5</text>
</svg>
</body></html>
